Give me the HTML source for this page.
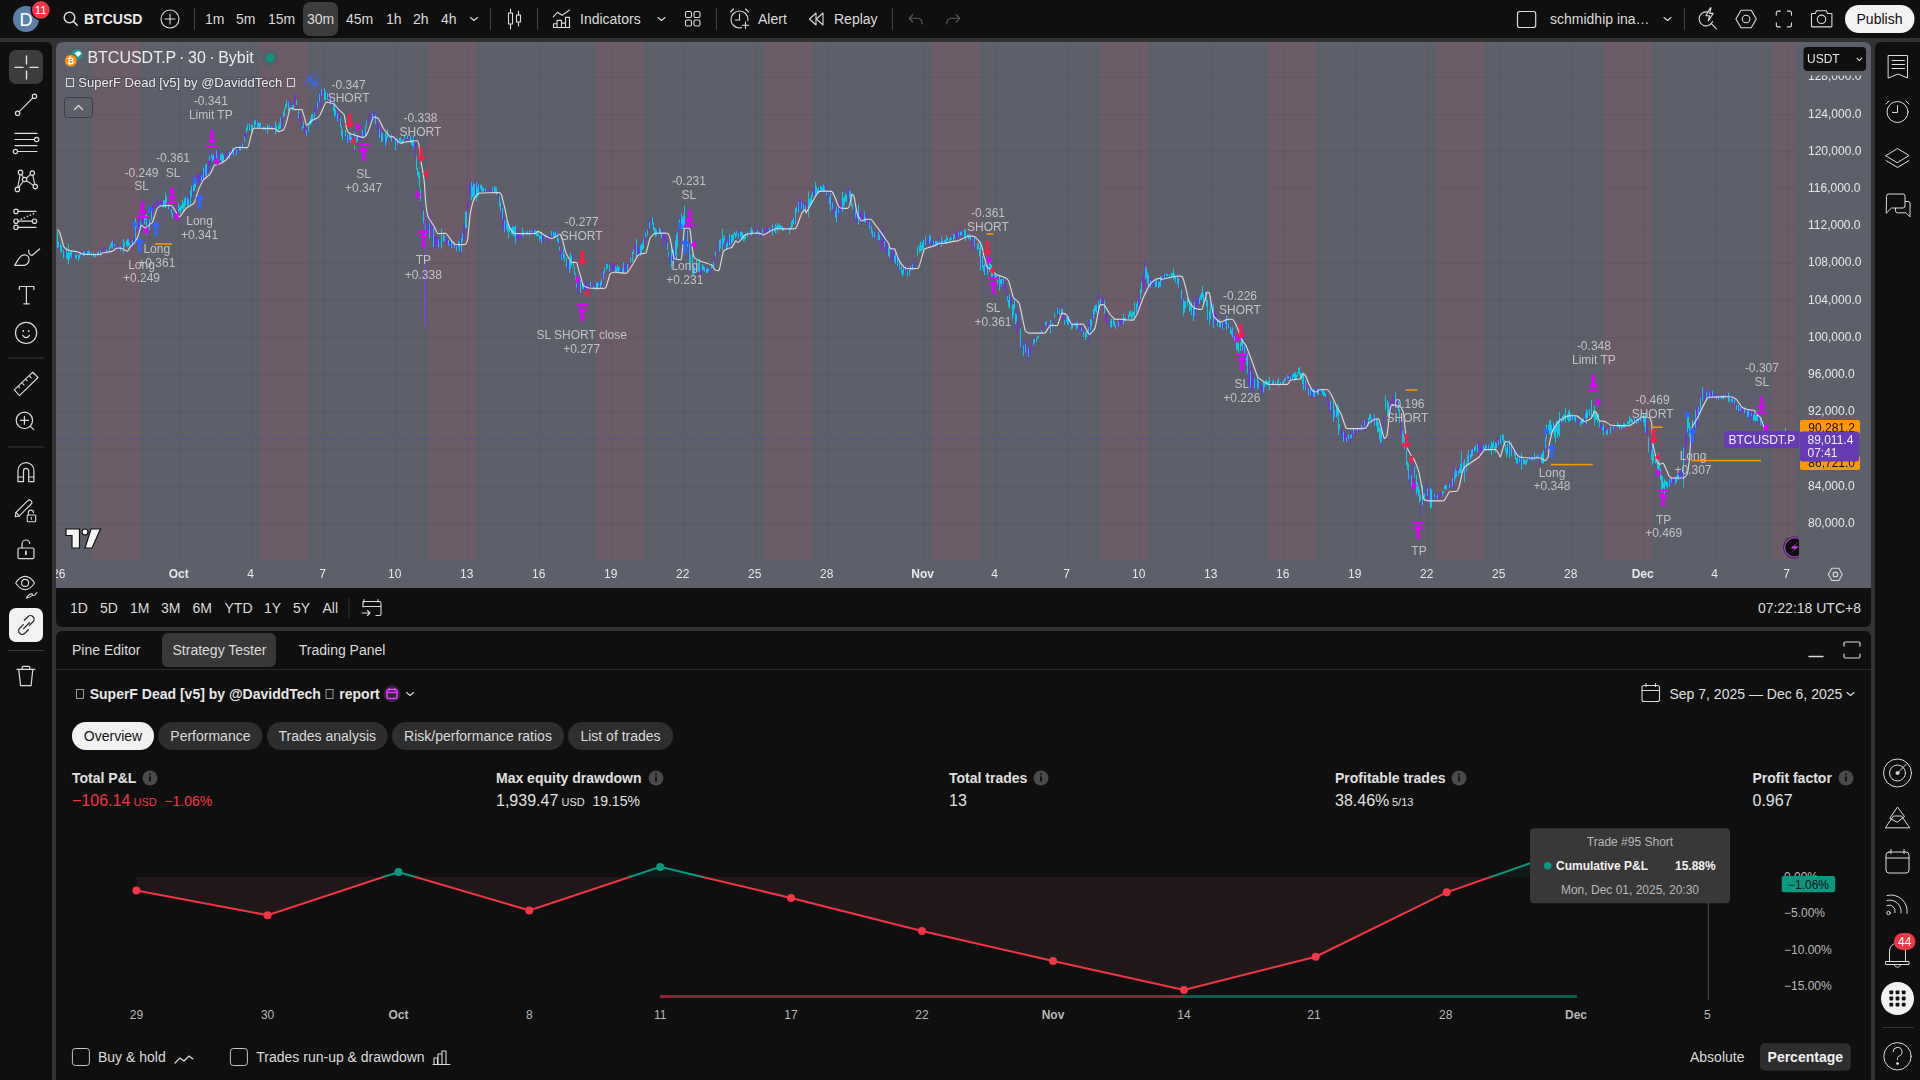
<!DOCTYPE html>
<html><head><meta charset="utf-8"><style>
html,body{margin:0;padding:0;}
body{width:1920px;height:1080px;overflow:hidden;background:#323232;position:relative;font-family:"Liberation Sans", sans-serif;}
.p{position:absolute;background:#0f0f0f;}
svg text{font-family:"Liberation Sans", sans-serif;}
</style></head><body>
<div class="p" style="left:0;top:0;width:1920px;height:38px"></div>
<div class="p" style="left:0;top:42px;width:52px;height:1038px;border-top-right-radius:6px"></div>
<div class="p" style="left:1875px;top:42px;width:45px;height:1038px;border-top-left-radius:6px"></div>
<div class="p" style="left:56px;top:42px;width:1815px;height:585px;border-radius:6px;overflow:hidden">
<svg width="1815" height="546" viewBox="56 42 1815 546" style="position:absolute;left:0;top:0;display:block">
<rect x="56" y="42" width="1815" height="546" fill="#5d606b"/>
<rect x="92" y="42" width="48" height="518" fill="#6b5c67"/>
<rect x="260" y="42" width="48" height="518" fill="#6b5c67"/>
<rect x="428" y="42" width="48" height="518" fill="#6b5c67"/>
<rect x="596" y="42" width="48" height="518" fill="#6b5c67"/>
<rect x="764" y="42" width="48" height="518" fill="#6b5c67"/>
<rect x="932" y="42" width="48" height="518" fill="#6b5c67"/>
<rect x="1100" y="42" width="48" height="518" fill="#6b5c67"/>
<rect x="1268" y="42" width="48" height="518" fill="#6b5c67"/>
<rect x="1436" y="42" width="48" height="518" fill="#6b5c67"/>
<rect x="1604" y="42" width="48" height="518" fill="#6b5c67"/>
<rect x="1772" y="42" width="23" height="518" fill="#6b5c67"/>
<rect x="178.5" y="42" width="1" height="518" fill="#000" fill-opacity="0.06"/>
<rect x="250.5" y="42" width="1" height="518" fill="#000" fill-opacity="0.06"/>
<rect x="322.5" y="42" width="1" height="518" fill="#000" fill-opacity="0.06"/>
<rect x="394.5" y="42" width="1" height="518" fill="#000" fill-opacity="0.06"/>
<rect x="466.5" y="42" width="1" height="518" fill="#000" fill-opacity="0.06"/>
<rect x="538.5" y="42" width="1" height="518" fill="#000" fill-opacity="0.06"/>
<rect x="610.5" y="42" width="1" height="518" fill="#000" fill-opacity="0.06"/>
<rect x="682.5" y="42" width="1" height="518" fill="#000" fill-opacity="0.06"/>
<rect x="754.5" y="42" width="1" height="518" fill="#000" fill-opacity="0.06"/>
<rect x="826.5" y="42" width="1" height="518" fill="#000" fill-opacity="0.06"/>
<rect x="922.5" y="42" width="1" height="518" fill="#000" fill-opacity="0.06"/>
<rect x="994.5" y="42" width="1" height="518" fill="#000" fill-opacity="0.06"/>
<rect x="1066.5" y="42" width="1" height="518" fill="#000" fill-opacity="0.06"/>
<rect x="1138.5" y="42" width="1" height="518" fill="#000" fill-opacity="0.06"/>
<rect x="1210.5" y="42" width="1" height="518" fill="#000" fill-opacity="0.06"/>
<rect x="1282.5" y="42" width="1" height="518" fill="#000" fill-opacity="0.06"/>
<rect x="1354.5" y="42" width="1" height="518" fill="#000" fill-opacity="0.06"/>
<rect x="1426.5" y="42" width="1" height="518" fill="#000" fill-opacity="0.06"/>
<rect x="1498.5" y="42" width="1" height="518" fill="#000" fill-opacity="0.06"/>
<rect x="1570.5" y="42" width="1" height="518" fill="#000" fill-opacity="0.06"/>
<rect x="1642.5" y="42" width="1" height="518" fill="#000" fill-opacity="0.06"/>
<rect x="1714.5" y="42" width="1" height="518" fill="#000" fill-opacity="0.06"/>
<rect x="1786.5" y="42" width="1" height="518" fill="#000" fill-opacity="0.06"/>
<rect x="56" y="76.7" width="1739" height="1" fill="#000" fill-opacity="0.06"/>
<rect x="56" y="113.9" width="1739" height="1" fill="#000" fill-opacity="0.06"/>
<rect x="56" y="151.1" width="1739" height="1" fill="#000" fill-opacity="0.06"/>
<rect x="56" y="188.3" width="1739" height="1" fill="#000" fill-opacity="0.06"/>
<rect x="56" y="225.5" width="1739" height="1" fill="#000" fill-opacity="0.06"/>
<rect x="56" y="262.7" width="1739" height="1" fill="#000" fill-opacity="0.06"/>
<rect x="56" y="299.9" width="1739" height="1" fill="#000" fill-opacity="0.06"/>
<rect x="56" y="337.1" width="1739" height="1" fill="#000" fill-opacity="0.06"/>
<rect x="56" y="374.3" width="1739" height="1" fill="#000" fill-opacity="0.06"/>
<rect x="56" y="411.5" width="1739" height="1" fill="#000" fill-opacity="0.06"/>
<rect x="56" y="448.7" width="1739" height="1" fill="#000" fill-opacity="0.06"/>
<rect x="56" y="485.9" width="1739" height="1" fill="#000" fill-opacity="0.06"/>
<rect x="56" y="523.1" width="1739" height="1" fill="#000" fill-opacity="0.06"/>
<line x1="56" y1="439.5" x2="1795" y2="439.5" stroke="#6535c8" stroke-width="1" stroke-dasharray="1,2"/>
<path d="M59.5 242.9V252.8M65.5 250.5V258.3M72.5 254.3V257.7M73.5 253.3V258.3M77.5 257.0V259.3M80.5 252.3V256.9M81.5 250.8V255.4M85.5 250.8V255.6M86.5 251.3V254.8M86.5 251.6V254.7M91.5 251.2V255.2M92.5 252.5V254.8M96.5 253.3V256.7M99.5 251.6V255.0M101.5 249.2V253.4M102.5 249.9V253.4M103.5 247.5V251.2M105.5 248.3V251.9M106.5 247.9V251.6M108.5 249.6V252.7M113.5 239.8V250.5M116.5 244.8V247.7M117.5 244.7V247.8M118.5 246.8V249.8M119.5 248.1V252.0M121.5 247.4V250.5M122.5 244.3V249.3M129.5 237.0V246.7M130.5 243.1V248.1M133.5 237.7V248.6M134.5 230.4V241.6M136.5 225.4V233.6M138.5 214.2V234.3M139.5 218.6V228.8M142.5 210.6V233.6M142.5 218.7V224.3M143.5 217.6V223.0M145.5 212.5V221.0M148.5 218.8V231.0M152.5 205.8V216.7M153.5 204.2V212.1M154.5 203.2V208.1M156.5 202.0V207.9M156.5 202.4V206.2M157.5 200.3V205.5M158.5 198.1V205.2M160.5 199.1V205.6M161.5 200.7V207.9M162.5 201.9V205.3M167.5 201.7V205.6M169.5 207.1V212.4M172.5 211.6V216.6M174.5 211.1V218.2M175.5 211.7V219.1M175.5 208.5V217.0M177.5 205.2V212.6M186.5 196.2V204.1M189.5 194.2V203.8M192.5 185.5V197.6M195.5 175.5V186.8M197.5 174.4V179.2M198.5 174.1V184.8M198.5 175.9V181.2M199.5 173.8V184.6M200.5 171.9V181.8M202.5 170.6V182.1M204.5 166.1V177.2M207.5 167.6V174.8M208.5 160.0V172.0M209.5 159.4V166.4M210.5 149.3V164.9M214.5 154.4V160.2M215.5 153.2V161.9M217.5 148.6V154.5M218.5 150.7V156.8M219.5 153.6V157.8M220.5 157.6V164.5M224.5 154.4V159.8M225.5 152.7V157.1M226.5 151.5V156.1M228.5 151.8V156.9M228.5 150.9V159.2M230.5 150.2V154.3M231.5 149.0V156.4M234.5 149.8V153.5M235.5 149.6V154.0M237.5 149.2V154.2M238.5 146.6V151.9M241.5 142.6V147.6M242.5 142.3V147.7M244.5 134.1V139.6M245.5 132.3V138.9M249.5 122.2V129.5M252.5 125.6V130.2M256.5 120.7V126.4M261.5 124.4V129.1M262.5 127.3V129.2M266.5 128.0V129.8M270.5 124.8V127.9M272.5 126.7V129.2M273.5 126.9V130.5M274.5 127.9V130.9M278.5 126.5V131.3M281.5 118.4V127.7M282.5 114.0V121.9M289.5 101.1V106.8M289.5 98.6V105.1M291.5 101.7V108.6M294.5 95.0V104.3M295.5 93.9V102.5M297.5 105.0V109.6M299.5 114.5V121.1M300.5 115.3V120.9M301.5 119.4V128.7M303.5 121.5V129.8M304.5 125.0V134.0M306.5 128.5V134.6M307.5 128.6V134.1M314.5 109.0V124.9M315.5 108.0V116.0M316.5 103.7V111.5M318.5 100.8V108.4M318.5 93.8V101.2M320.5 90.2V107.7M320.5 93.0V99.0M322.5 90.0V95.2M325.5 88.9V94.4M328.5 95.5V99.7M328.5 93.4V104.9M332.5 98.9V104.6M332.5 101.1V107.5M336.5 112.4V117.3M336.5 107.2V115.5M338.5 109.5V118.8M339.5 114.4V124.6M343.5 133.7V138.8M346.5 134.3V140.1M346.5 136.5V143.3M348.5 135.9V142.5M351.5 134.9V144.3M353.5 133.2V143.8M356.5 138.7V143.1M358.5 137.2V141.3M359.5 134.2V139.5M360.5 134.0V139.9M361.5 134.0V138.7M363.5 128.8V136.4M364.5 131.7V136.4M367.5 120.3V124.2M368.5 113.4V122.1M370.5 113.7V120.9M370.5 115.6V122.2M372.5 112.9V120.6M373.5 111.4V119.0M374.5 110.8V119.3M375.5 117.3V126.6M377.5 115.2V130.2M377.5 117.4V127.1M378.5 123.3V134.7M380.5 127.0V138.6M384.5 137.0V145.8M389.5 133.3V140.6M389.5 137.7V141.1M392.5 134.1V140.1M393.5 137.5V142.1M396.5 141.7V147.5M396.5 138.8V143.9M398.5 139.5V143.8M403.5 139.3V143.0M405.5 138.4V141.9M406.5 136.9V140.2M408.5 135.8V139.5M410.5 139.1V147.1M414.5 136.9V148.6M415.5 143.9V158.0M421.5 201.6V213.1M424.5 214.4V224.0M424.5 219.0V233.1M426.5 220.9V234.6M428.5 221.6V229.9M430.5 212.7V237.3M430.5 216.4V235.4M432.5 223.0V240.6M434.5 236.5V251.3M435.5 235.7V248.3M436.5 235.2V245.5M437.5 237.2V246.8M439.5 238.8V244.7M445.5 236.2V243.6M446.5 239.0V243.7M447.5 237.4V243.1M449.5 241.8V246.2M450.5 242.0V247.8M452.5 240.5V246.0M453.5 242.0V246.9M455.5 243.7V248.0M457.5 244.9V249.3M460.5 235.0V256.0M463.5 225.8V240.2M464.5 224.4V238.9M467.5 201.1V217.8M468.5 200.7V208.7M469.5 183.3V195.1M470.5 179.9V194.9M470.5 182.2V191.9M475.5 179.6V193.4M479.5 183.7V190.1M484.5 188.7V192.4M486.5 187.9V191.4M488.5 189.1V191.1M488.5 188.6V192.5M490.5 189.2V192.3M491.5 189.0V191.0M493.5 190.5V194.0M494.5 186.8V192.7M498.5 191.3V201.3M501.5 207.9V218.9M502.5 204.3V231.7M503.5 214.8V227.5M505.5 222.2V227.1M505.5 222.1V232.5M511.5 223.8V235.7M516.5 231.5V238.3M517.5 227.7V241.8M518.5 234.6V239.3M519.5 233.1V239.2M520.5 234.5V238.0M521.5 234.4V237.2M524.5 232.0V234.8M528.5 231.8V234.3M530.5 231.1V233.9M532.5 229.8V232.6M533.5 229.0V233.1M536.5 232.6V237.3M541.5 236.1V239.7M542.5 233.3V241.2M543.5 234.3V239.2M543.5 237.6V242.0M546.5 235.1V238.5M547.5 236.8V241.5M548.5 237.0V242.3M549.5 234.4V239.1M549.5 233.2V238.6M552.5 232.5V239.1M555.5 229.0V233.3M556.5 231.3V238.0M559.5 239.8V253.7M560.5 248.8V259.8M562.5 248.7V259.4M562.5 252.4V257.5M567.5 261.1V267.7M567.5 263.4V268.7M568.5 261.8V272.7M572.5 252.7V262.3M576.5 276.0V286.3M577.5 284.2V292.1M578.5 277.6V294.9M579.5 277.6V288.1M582.5 285.8V290.0M584.5 284.8V289.5M585.5 280.9V289.1M586.5 282.6V290.8M587.5 286.3V293.7M588.5 285.3V290.8M589.5 282.6V288.0M591.5 281.5V286.2M592.5 284.7V288.0M594.5 282.3V288.6M594.5 283.9V286.9M599.5 281.7V288.9M602.5 269.8V288.3M604.5 270.1V277.1M607.5 261.7V268.0M609.5 266.7V271.3M611.5 264.0V272.1M612.5 263.2V269.8M613.5 263.1V271.0M614.5 264.3V271.2M620.5 267.1V272.0M621.5 267.4V273.4M624.5 264.7V269.4M625.5 263.8V273.1M626.5 264.5V269.9M629.5 260.1V266.1M631.5 254.2V257.6M634.5 245.5V251.2M635.5 246.9V252.7M635.5 244.5V251.2M637.5 245.3V253.8M638.5 247.5V255.6M639.5 249.3V255.7M639.5 250.2V255.8M641.5 241.9V253.6M644.5 236.2V245.4M645.5 232.1V242.2M648.5 221.4V230.0M649.5 223.6V230.4M650.5 217.3V225.3M654.5 226.2V233.6M657.5 228.8V236.7M657.5 228.5V234.6M662.5 228.1V245.9M663.5 232.1V237.9M664.5 234.1V240.9M665.5 234.9V243.0M666.5 238.0V247.5M669.5 255.1V263.6M670.5 255.0V261.4M672.5 248.1V259.8M674.5 245.4V261.6M678.5 224.6V242.8M680.5 215.5V228.8M684.5 212.2V225.9M685.5 217.3V229.8M686.5 219.6V239.8M688.5 241.3V258.5M695.5 265.2V275.0M700.5 269.6V275.7M701.5 267.7V274.5M702.5 266.1V271.3M705.5 266.3V271.2M709.5 268.1V273.1M710.5 269.4V276.3M711.5 266.3V269.9M713.5 257.5V267.3M714.5 256.0V263.0M717.5 242.5V254.3M717.5 246.2V256.3M721.5 240.1V245.9M725.5 236.8V247.1M726.5 238.7V246.9M728.5 238.3V249.9M730.5 237.9V243.2M731.5 235.7V245.3M735.5 231.6V236.7M739.5 226.6V243.4M748.5 230.7V234.6M749.5 231.6V235.1M751.5 230.1V235.0M754.5 230.6V234.7M754.5 231.2V234.0M755.5 229.5V233.3M759.5 227.2V236.3M760.5 229.1V237.5M761.5 231.2V235.8M764.5 229.8V232.7M765.5 229.8V234.0M765.5 228.8V232.2M766.5 227.0V232.5M767.5 227.9V231.6M768.5 228.9V232.1M770.5 228.1V232.4M773.5 227.3V229.9M774.5 227.5V230.1M785.5 227.2V230.3M785.5 227.9V229.7M786.5 228.0V230.0M787.5 227.6V231.7M788.5 227.0V231.2M789.5 228.4V230.7M794.5 215.4V223.4M797.5 204.4V211.2M799.5 198.3V208.9M800.5 197.3V207.6M802.5 201.0V212.8M804.5 201.7V209.2M806.5 201.7V206.9M813.5 187.9V195.2M814.5 186.7V195.4M816.5 189.4V196.3M819.5 187.9V192.7M823.5 185.4V189.0M825.5 183.5V195.5M827.5 195.4V201.8M828.5 190.7V198.5M831.5 200.4V206.7M832.5 202.1V207.9M833.5 203.1V213.1M834.5 208.1V214.5M837.5 208.9V215.2M839.5 201.1V221.0M840.5 202.8V207.5M840.5 201.4V210.4M841.5 203.6V211.5M846.5 188.2V200.6M848.5 187.4V201.7M854.5 208.7V222.6M856.5 212.6V222.2M860.5 210.9V220.8M861.5 211.5V224.2M862.5 212.5V220.7M865.5 213.3V221.2M866.5 215.3V223.5M867.5 215.5V224.2M868.5 219.8V226.5M870.5 224.4V228.0M873.5 230.3V239.7M876.5 230.5V235.0M876.5 230.9V236.7M878.5 237.4V244.7M881.5 233.2V245.4M881.5 229.5V251.7M882.5 234.4V243.4M883.5 227.2V251.2M885.5 239.2V250.2M886.5 243.3V250.5M887.5 246.7V254.7M891.5 254.2V261.4M892.5 250.1V260.1M893.5 246.1V262.2M896.5 251.4V261.2M898.5 263.2V271.7M899.5 262.7V271.0M904.5 264.5V272.3M906.5 266.4V272.0M908.5 270.5V274.8M911.5 264.5V270.1M913.5 263.1V268.6M913.5 263.4V268.8M915.5 260.2V266.5M915.5 257.8V262.6M924.5 237.8V246.3M925.5 237.8V244.4M927.5 240.8V244.3M928.5 235.2V244.8M931.5 239.7V246.7M932.5 240.9V247.8M933.5 241.5V245.5M934.5 241.8V245.6M938.5 236.9V248.2M940.5 238.9V243.7M942.5 241.2V244.1M947.5 237.1V243.5M949.5 237.6V241.5M952.5 234.9V239.3M955.5 232.5V236.3M956.5 230.0V240.2M957.5 232.7V237.4M959.5 232.5V236.6M961.5 226.5V237.8M962.5 233.2V235.8M963.5 232.4V234.9M971.5 236.5V242.3M971.5 238.0V249.9M973.5 238.2V245.8M974.5 234.9V251.4M975.5 240.6V245.7M981.5 255.3V266.7M985.5 260.0V273.3M989.5 265.8V274.0M993.5 270.2V277.7M994.5 270.2V276.3M1002.5 283.5V288.7M1004.5 278.4V290.1M1005.5 284.0V291.9M1006.5 291.1V298.1M1010.5 295.1V303.8M1011.5 297.7V305.3M1015.5 311.0V330.0M1017.5 306.8V334.7M1018.5 322.0V330.0M1021.5 338.2V350.6M1023.5 345.7V351.0M1024.5 343.4V355.0M1027.5 344.6V356.1M1027.5 339.5V363.5M1029.5 347.1V355.9M1030.5 349.6V354.3M1030.5 347.5V356.2M1031.5 342.7V349.2M1032.5 338.8V344.5M1034.5 339.3V343.5M1035.5 337.8V339.5M1040.5 332.4V336.9M1040.5 332.2V336.3M1042.5 329.3V331.6M1043.5 325.6V329.4M1044.5 324.6V327.2M1047.5 323.0V326.6M1047.5 321.7V325.3M1049.5 321.8V326.6M1051.5 324.1V330.3M1053.5 317.7V327.3M1056.5 307.8V311.0M1058.5 309.3V316.3M1062.5 302.6V319.4M1063.5 311.9V319.2M1065.5 318.2V323.0M1069.5 316.3V323.0M1070.5 320.2V327.9M1071.5 323.3V327.0M1073.5 320.8V325.2M1078.5 321.9V329.4M1079.5 324.4V329.6M1080.5 326.2V332.1M1082.5 327.8V333.2M1083.5 330.5V334.0M1085.5 332.4V340.4M1088.5 319.8V342.8M1089.5 324.1V335.3M1092.5 314.3V319.9M1097.5 297.4V311.1M1098.5 291.7V319.3M1100.5 296.3V307.8M1102.5 298.0V304.7M1103.5 297.6V309.3M1105.5 313.5V321.2M1106.5 311.6V323.7M1107.5 316.6V322.5M1109.5 320.7V327.8M1113.5 321.0V326.2M1116.5 323.5V328.1M1116.5 321.6V328.5M1119.5 319.7V325.2M1120.5 320.6V324.5M1121.5 320.2V324.8M1122.5 318.4V322.3M1126.5 315.5V319.8M1134.5 307.1V316.7M1137.5 301.0V309.3M1138.5 298.7V307.7M1139.5 292.8V313.3M1142.5 277.7V286.4M1143.5 274.2V288.5M1144.5 259.9V292.4M1149.5 278.9V287.1M1150.5 279.4V288.1M1151.5 276.9V284.5M1151.5 279.6V289.8M1153.5 280.3V286.5M1154.5 279.9V284.9M1157.5 281.2V286.7M1162.5 274.0V284.8M1163.5 276.2V279.9M1165.5 273.4V276.6M1167.5 272.8V276.6M1176.5 275.4V282.1M1179.5 283.1V291.3M1181.5 294.0V300.5M1182.5 296.5V304.7M1189.5 303.2V311.4M1192.5 306.8V313.4M1195.5 295.6V319.3M1196.5 300.1V309.6M1197.5 298.5V309.4M1198.5 295.3V303.8M1204.5 291.5V296.6M1207.5 301.9V313.1M1208.5 314.9V322.4M1212.5 302.2V316.6M1213.5 308.1V322.3M1214.5 310.5V325.7M1215.5 310.4V324.9M1216.5 314.6V321.7M1221.5 320.6V330.3M1223.5 323.6V328.0M1224.5 320.0V325.3M1225.5 316.9V326.4M1227.5 320.6V324.4M1229.5 324.4V329.2M1233.5 328.8V337.8M1235.5 335.6V342.6M1243.5 327.9V363.2M1245.5 348.3V362.6M1248.5 361.0V389.3M1249.5 368.9V384.3M1251.5 363.8V393.4M1252.5 373.9V386.0M1253.5 377.1V391.2M1256.5 381.9V388.5M1259.5 380.3V387.6M1260.5 386.4V390.7M1261.5 385.5V393.2M1262.5 385.8V395.6M1271.5 381.7V386.2M1274.5 380.4V382.7M1278.5 381.7V383.9M1280.5 380.0V385.1M1286.5 376.1V381.0M1288.5 374.9V378.4M1289.5 374.6V378.8M1291.5 374.7V379.7M1295.5 374.7V379.5M1302.5 374.7V381.9M1304.5 381.2V386.8M1306.5 383.7V391.6M1309.5 387.0V394.3M1311.5 390.2V396.3M1311.5 392.5V398.3M1312.5 389.4V398.0M1315.5 386.7V394.5M1316.5 390.5V396.4M1316.5 389.1V398.6M1319.5 387.5V392.9M1320.5 389.0V392.9M1322.5 389.0V392.8M1325.5 390.3V396.1M1327.5 395.3V402.6M1328.5 399.9V406.3M1329.5 403.1V412.2M1331.5 402.5V411.6M1332.5 409.6V414.4M1335.5 411.4V420.8M1336.5 408.3V417.8M1341.5 426.6V436.0M1342.5 430.8V440.0M1344.5 431.0V441.4M1345.5 433.1V443.3M1346.5 435.4V440.0M1349.5 435.1V439.1M1350.5 430.4V443.2M1352.5 430.2V437.1M1354.5 430.9V434.4M1355.5 428.1V433.1M1356.5 429.1V431.9M1358.5 426.8V432.1M1360.5 426.5V430.8M1361.5 427.1V430.3M1362.5 423.7V427.0M1363.5 421.4V425.0M1365.5 420.0V431.7M1366.5 420.1V425.5M1372.5 418.7V424.5M1374.5 417.5V426.2M1375.5 414.0V423.6M1381.5 430.2V448.5M1382.5 424.7V440.5M1383.5 415.3V425.5M1385.5 397.2V411.7M1390.5 401.5V417.1M1390.5 400.9V408.4M1391.5 398.9V411.2M1392.5 394.5V403.9M1394.5 397.5V405.3M1397.5 400.5V408.5M1400.5 417.4V433.8M1401.5 429.0V435.8M1405.5 440.4V449.0M1409.5 470.5V483.0M1409.5 472.7V483.6M1411.5 471.2V486.7M1412.5 479.6V493.6M1413.5 470.8V485.7M1413.5 462.1V473.4M1417.5 480.6V494.3M1420.5 500.1V515.8M1423.5 491.1V502.3M1424.5 493.3V498.9M1426.5 483.3V504.5M1426.5 487.1V493.1M1428.5 486.7V497.7M1428.5 492.6V498.5M1431.5 497.0V502.3M1432.5 495.0V501.3M1433.5 495.6V498.8M1435.5 493.3V496.4M1436.5 494.0V496.6M1438.5 494.5V498.1M1438.5 492.6V496.4M1439.5 494.1V498.7M1440.5 492.9V496.7M1441.5 491.8V496.8M1445.5 483.8V490.0M1448.5 482.4V487.0M1450.5 480.9V486.8M1450.5 481.5V489.3M1453.5 462.7V489.2M1457.5 468.8V475.4M1458.5 465.3V474.1M1459.5 467.5V472.7M1462.5 458.4V464.4M1465.5 466.5V473.2M1467.5 456.4V461.0M1469.5 450.5V460.9M1473.5 447.7V453.8M1475.5 446.1V452.4M1478.5 441.8V457.4M1479.5 444.0V449.5M1480.5 445.5V452.9M1481.5 448.0V453.0M1482.5 444.8V450.8M1487.5 444.2V449.3M1489.5 445.2V449.3M1497.5 437.4V447.1M1499.5 437.2V445.2M1502.5 435.2V440.9M1508.5 444.6V454.5M1508.5 441.5V453.3M1513.5 449.0V453.4M1517.5 451.2V466.1M1518.5 458.0V465.2M1520.5 457.7V464.0M1521.5 458.7V462.4M1523.5 457.7V463.1M1528.5 458.4V460.6M1530.5 456.3V459.0M1531.5 456.1V458.8M1533.5 454.9V460.5M1537.5 454.6V457.9M1539.5 454.5V466.4M1541.5 453.0V459.8M1543.5 454.7V460.4M1544.5 442.4V454.4M1547.5 428.6V434.3M1550.5 422.7V432.6M1552.5 423.5V432.3M1559.5 426.2V433.2M1560.5 419.5V426.5M1570.5 415.2V418.4M1571.5 415.4V419.0M1573.5 415.8V421.0M1574.5 416.8V420.4M1576.5 421.8V424.2M1578.5 420.0V424.7M1579.5 420.7V423.9M1584.5 409.7V425.5M1589.5 407.4V414.3M1600.5 423.5V429.5M1601.5 423.3V430.7M1604.5 426.9V432.9M1605.5 427.6V432.2M1608.5 429.2V433.8M1612.5 427.6V431.6M1612.5 427.1V430.8M1614.5 425.7V430.4M1615.5 424.0V427.1M1616.5 422.2V426.3M1622.5 423.3V431.3M1626.5 423.2V425.3M1631.5 418.8V421.9M1635.5 418.6V423.8M1639.5 419.2V422.8M1640.5 417.2V423.3M1641.5 413.4V418.8M1642.5 416.5V420.7M1645.5 417.3V428.7M1646.5 412.9V434.9M1647.5 426.6V433.9M1650.5 440.4V455.1M1655.5 456.3V465.0M1658.5 451.4V462.5M1668.5 481.5V486.1M1670.5 478.4V484.6M1672.5 476.3V483.6M1673.5 476.7V483.1M1674.5 476.8V482.6M1678.5 472.8V478.3M1679.5 471.9V478.1M1680.5 470.3V479.2M1681.5 468.7V478.4M1682.5 467.2V480.7M1684.5 455.5V462.9M1685.5 433.6V456.9M1686.5 427.6V446.4M1687.5 409.6V427.9M1691.5 430.4V448.3M1692.5 426.6V443.2M1694.5 416.7V432.0M1696.5 405.5V426.7M1697.5 408.9V426.3M1699.5 405.2V415.9M1701.5 390.8V401.9M1704.5 388.3V397.8M1704.5 393.2V400.3M1705.5 392.1V398.5M1706.5 387.9V396.5M1708.5 391.7V399.1M1710.5 391.3V399.6M1711.5 391.1V396.3M1713.5 392.9V397.7M1714.5 393.0V398.3M1715.5 395.6V399.8M1717.5 396.1V399.9M1719.5 394.8V400.5M1720.5 396.7V398.5M1723.5 395.0V398.7M1726.5 393.3V395.6M1727.5 393.4V395.9M1730.5 396.9V401.0M1733.5 394.9V407.8M1735.5 401.3V406.2M1737.5 407.5V411.2M1739.5 406.0V412.3M1740.5 409.6V413.0M1741.5 407.4V412.8M1742.5 406.4V410.9M1743.5 405.8V412.5M1746.5 408.4V413.0M1746.5 409.1V415.9M1749.5 409.5V419.6M1750.5 412.0V416.8M1751.5 408.3V423.2M1752.5 412.2V418.2M1754.5 412.9V420.6M1758.5 417.2V422.9M1759.5 421.3V424.8M1761.5 420.2V425.3M1762.5 422.6V427.4M1764.5 424.4V433.7M1765.5 426.7V438.7M1765.5 428.9V434.9M1767.5 424.5V433.7" stroke="#6f35d2" stroke-width="1" fill="none"/>
<path d="M57.5 232.2V247.9M58.5 241.8V247.2M60.5 243.7V249.3M60.5 243.3V251.5M61.5 245.6V252.5M63.5 251.6V256.7M63.5 249.9V258.2M66.5 249.9V258.5M66.5 249.1V253.8M67.5 253.1V259.5M67.5 253.0V258.6M68.5 244.5V264.4M69.5 252.8V259.4M70.5 251.8V255.7M71.5 250.3V257.6M75.5 254.9V258.2M76.5 254.3V259.2M78.5 254.2V260.9M79.5 255.3V258.5M79.5 254.6V258.6M80.5 252.1V255.5M83.5 251.5V256.1M84.5 251.6V255.2M87.5 251.0V255.1M88.5 250.8V255.1M89.5 250.9V254.3M91.5 252.5V255.6M93.5 252.3V256.4M94.5 253.9V257.5M95.5 254.6V256.8M97.5 252.0V256.5M98.5 251.8V255.4M100.5 251.1V255.6M106.5 249.3V253.5M109.5 246.9V251.3M110.5 243.7V248.4M111.5 242.1V247.3M112.5 240.7V248.6M114.5 243.9V246.7M120.5 247.0V251.4M123.5 239.0V253.2M124.5 242.5V247.5M126.5 240.5V245.4M127.5 239.1V247.2M128.5 239.1V245.6M128.5 238.9V245.5M129.5 242.5V249.3M132.5 240.5V246.4M135.5 218.1V243.5M136.5 222.5V227.4M140.5 221.8V228.9M140.5 222.7V227.8M144.5 216.5V224.1M145.5 215.1V219.8M146.5 214.2V235.2M149.5 221.9V230.2M149.5 219.1V224.9M151.5 211.2V220.3M163.5 200.9V207.4M163.5 200.1V207.2M164.5 200.2V206.0M165.5 192.5V208.6M166.5 196.1V203.5M168.5 203.5V209.5M171.5 209.1V213.8M172.5 213.0V218.1M178.5 203.7V211.0M178.5 203.3V211.9M179.5 207.3V211.2M180.5 205.4V214.5M181.5 205.6V210.7M182.5 199.7V208.4M183.5 202.7V211.9M184.5 198.4V207.9M185.5 196.6V205.7M185.5 196.8V205.0M187.5 197.7V205.7M188.5 199.2V207.7M190.5 190.4V205.8M191.5 188.8V196.8M191.5 186.0V195.4M193.5 182.8V191.4M194.5 182.2V191.0M195.5 178.0V187.6M201.5 175.4V181.1M203.5 167.3V180.8M205.5 164.6V176.0M206.5 163.6V175.3M209.5 155.7V160.7M211.5 153.8V157.8M212.5 155.9V161.1M213.5 154.5V160.4M216.5 150.7V158.6M220.5 154.3V159.8M221.5 153.6V161.8M222.5 153.1V163.0M223.5 155.3V161.8M229.5 151.6V158.4M232.5 147.7V153.3M233.5 150.2V155.9M236.5 149.4V155.4M239.5 146.2V150.7M240.5 146.1V150.7M242.5 143.4V148.5M244.5 136.8V141.7M246.5 127.4V132.9M247.5 124.2V130.3M249.5 123.3V130.7M251.5 124.5V130.5M252.5 124.9V133.0M254.5 120.6V128.2M255.5 120.3V124.9M257.5 122.7V127.8M258.5 122.3V126.8M259.5 123.5V128.1M260.5 122.5V127.1M263.5 127.1V130.0M264.5 127.4V129.4M265.5 128.1V130.7M267.5 124.5V133.8M268.5 126.5V129.3M269.5 125.1V127.3M271.5 126.2V129.2M272.5 127.3V129.5M275.5 121.5V134.1M276.5 125.2V131.8M278.5 125.6V132.0M279.5 122.3V129.6M280.5 117.7V128.6M283.5 111.2V116.8M283.5 113.3V117.5M284.5 108.3V116.5M285.5 103.9V109.1M286.5 100.2V107.4M288.5 102.2V110.9M292.5 105.1V110.9M293.5 104.9V109.3M296.5 99.7V104.9M298.5 109.7V115.3M298.5 111.5V118.6M302.5 125.9V129.9M303.5 121.4V127.7M306.5 130.0V135.6M308.5 123.8V131.7M309.5 121.0V125.3M310.5 118.0V125.0M311.5 114.5V123.6M312.5 113.8V121.3M314.5 112.5V120.4M317.5 101.6V108.8M319.5 94.1V102.1M321.5 89.0V95.5M324.5 88.0V100.4M324.5 88.7V97.3M325.5 91.4V99.7M327.5 93.0V99.8M330.5 98.3V103.7M330.5 98.0V104.2M333.5 105.2V111.2M334.5 101.5V116.8M335.5 109.2V115.4M337.5 113.2V121.3M340.5 117.7V127.0M341.5 125.8V135.7M342.5 130.1V140.5M345.5 130.0V136.2M347.5 134.7V143.0M349.5 132.3V140.6M350.5 133.7V143.1M351.5 137.1V142.1M354.5 131.9V149.7M354.5 135.3V141.8M356.5 136.7V142.7M357.5 135.3V141.1M362.5 129.9V137.7M365.5 126.0V136.3M366.5 120.4V126.9M372.5 113.5V119.8M375.5 114.8V124.5M379.5 128.7V137.9M381.5 132.3V142.1M382.5 133.5V139.5M382.5 136.1V141.3M385.5 137.3V146.2M385.5 132.7V145.9M386.5 135.5V141.7M387.5 129.3V138.1M391.5 137.0V141.6M391.5 134.0V139.9M395.5 139.3V150.1M397.5 138.4V144.6M399.5 137.6V141.3M400.5 137.5V141.6M401.5 140.2V143.0M402.5 139.9V144.1M403.5 139.6V142.7M404.5 134.7V139.4M407.5 135.4V138.9M410.5 135.7V142.7M411.5 139.2V145.3M412.5 140.3V146.0M413.5 135.1V147.7M416.5 155.3V169.7M417.5 167.8V175.5M418.5 171.3V178.1M419.5 172.5V179.1M419.5 174.6V187.1M420.5 187.9V200.9M423.5 210.8V223.2M425.5 224.4V237.1M429.5 223.3V238.3M433.5 228.0V247.1M438.5 239.1V247.2M441.5 238.4V243.9M441.5 228.8V248.7M443.5 233.7V242.0M443.5 233.2V240.3M444.5 235.4V240.9M448.5 239.9V246.0M451.5 241.1V247.9M451.5 242.5V247.6M453.5 241.4V244.1M454.5 242.5V248.0M456.5 246.0V251.3M458.5 240.8V247.0M459.5 242.5V251.4M461.5 237.6V252.0M462.5 233.3V241.4M465.5 211.7V228.4M466.5 211.0V228.2M471.5 182.0V200.3M472.5 186.9V197.1M473.5 183.2V200.5M474.5 184.1V195.4M476.5 182.3V194.0M476.5 186.3V201.1M477.5 187.8V197.4M478.5 184.3V195.9M480.5 184.9V188.6M481.5 185.1V190.8M482.5 187.2V191.7M483.5 187.6V192.0M485.5 188.0V191.6M492.5 187.3V191.4M494.5 185.9V193.0M495.5 187.3V191.9M496.5 187.3V194.9M499.5 196.5V206.5M500.5 202.3V211.2M502.5 208.2V219.2M504.5 220.4V232.4M506.5 221.3V229.5M507.5 224.0V231.1M508.5 225.3V238.4M509.5 227.0V232.3M511.5 228.1V234.9M512.5 226.6V235.3M513.5 226.2V234.6M514.5 227.1V236.7M515.5 225.4V243.2M522.5 227.8V236.4M523.5 231.1V234.3M523.5 231.2V235.5M526.5 231.6V234.0M527.5 231.1V235.0M529.5 230.6V235.7M531.5 230.1V232.1M534.5 230.2V234.4M535.5 230.4V234.7M536.5 230.9V236.5M537.5 231.8V236.4M538.5 233.6V236.4M539.5 236.0V240.9M540.5 235.4V239.0M541.5 232.0V243.4M545.5 234.1V237.9M551.5 231.0V235.8M553.5 231.8V236.8M554.5 233.5V237.6M555.5 231.3V236.4M557.5 233.1V241.9M558.5 238.9V243.3M559.5 246.4V250.7M561.5 253.7V260.2M563.5 248.8V258.9M564.5 254.1V261.6M566.5 257.4V267.1M569.5 261.2V273.0M570.5 252.4V269.0M571.5 255.2V265.3M573.5 261.7V267.4M574.5 267.2V274.5M575.5 273.2V279.9M576.5 279.5V287.6M580.5 285.1V290.7M580.5 278.4V292.5M582.5 282.6V288.6M583.5 283.7V289.0M590.5 281.2V286.8M593.5 286.0V289.4M596.5 282.4V290.2M597.5 282.5V288.6M598.5 283.2V285.8M600.5 281.6V287.7M601.5 279.0V285.1M603.5 271.3V278.9M604.5 267.3V273.2M606.5 263.6V269.9M607.5 264.2V268.3M609.5 265.2V272.0M615.5 266.4V273.1M616.5 267.7V272.4M617.5 265.3V270.7M618.5 266.9V272.3M619.5 267.5V270.7M622.5 268.3V273.2M623.5 262.3V273.6M627.5 264.5V272.4M627.5 264.0V268.7M630.5 257.5V262.9M632.5 251.8V261.4M633.5 249.4V254.0M636.5 238.5V257.4M640.5 245.4V256.2M641.5 244.3V253.0M642.5 242.6V250.1M643.5 239.0V248.7M645.5 232.6V237.8M647.5 230.0V235.8M649.5 222.1V228.4M652.5 217.0V224.6M652.5 221.1V224.8M653.5 222.7V230.3M654.5 226.8V234.7M655.5 228.7V236.8M656.5 230.0V235.9M659.5 227.6V234.0M660.5 229.1V233.4M661.5 232.8V238.0M667.5 242.9V250.2M668.5 251.9V257.0M671.5 246.4V268.5M673.5 250.0V264.9M675.5 240.7V255.3M676.5 234.5V259.8M677.5 231.7V247.1M679.5 219.5V228.3M681.5 213.1V228.8M682.5 217.4V228.5M683.5 215.1V230.3M684.5 205.8V225.6M687.5 230.5V242.2M687.5 238.4V246.7M689.5 243.8V267.7M689.5 252.8V270.9M690.5 254.6V263.8M692.5 253.3V274.7M693.5 265.9V274.3M694.5 266.6V273.7M696.5 259.9V272.2M698.5 263.1V271.5M699.5 258.8V272.5M702.5 264.0V270.6M703.5 266.0V270.2M704.5 267.2V271.6M706.5 268.6V273.0M707.5 268.1V273.0M708.5 268.9V271.8M711.5 263.9V268.9M713.5 261.7V267.3M715.5 251.5V256.7M719.5 244.3V251.5M719.5 240.1V246.2M720.5 239.0V248.5M722.5 229.0V250.8M723.5 237.5V244.1M724.5 235.0V240.9M726.5 243.4V249.9M727.5 241.5V247.2M729.5 233.6V246.1M731.5 234.6V244.2M732.5 234.9V242.2M733.5 233.9V240.7M734.5 231.8V235.1M735.5 233.0V237.9M736.5 231.1V236.7M738.5 233.2V238.4M740.5 231.6V237.0M741.5 231.8V238.2M742.5 232.4V237.2M743.5 234.7V241.7M744.5 235.3V240.7M745.5 233.5V238.2M745.5 234.5V239.1M747.5 231.7V237.2M750.5 230.2V234.2M751.5 226.9V235.7M752.5 229.8V234.2M757.5 230.0V233.8M757.5 230.3V234.1M759.5 231.5V235.3M762.5 229.0V233.8M769.5 227.7V232.1M769.5 227.6V232.4M772.5 224.8V235.5M774.5 228.4V231.6M775.5 224.3V233.3M776.5 225.9V229.5M777.5 223.2V233.1M778.5 224.9V228.2M779.5 223.2V229.1M780.5 225.0V228.5M781.5 225.9V229.4M782.5 226.5V230.7M783.5 228.3V230.4M783.5 228.0V230.5M789.5 228.2V234.0M790.5 226.3V229.6M791.5 221.6V228.8M792.5 219.9V227.2M793.5 217.8V223.6M795.5 208.0V224.3M796.5 206.5V212.4M798.5 201.7V212.2M801.5 201.8V209.4M803.5 204.4V212.3M805.5 205.0V210.9M808.5 191.3V217.1M809.5 199.4V207.9M810.5 198.0V205.3M811.5 195.0V204.6M812.5 192.0V197.6M815.5 182.2V196.7M816.5 186.3V193.6M817.5 189.4V193.8M818.5 187.4V193.9M820.5 185.8V191.6M820.5 186.6V190.7M821.5 186.6V189.8M822.5 187.8V191.1M823.5 184.3V191.0M824.5 186.7V191.8M826.5 192.6V195.8M829.5 197.1V203.7M830.5 193.7V210.8M832.5 202.8V209.1M835.5 210.7V217.4M836.5 207.4V222.4M836.5 208.0V215.4M838.5 208.6V213.5M842.5 191.9V211.9M843.5 197.6V206.9M844.5 196.3V204.8M845.5 193.2V201.7M846.5 194.8V202.2M849.5 190.6V197.7M850.5 191.5V202.4M851.5 197.2V205.4M852.5 203.5V209.9M855.5 209.8V217.7M857.5 212.4V218.4M858.5 207.8V215.7M858.5 204.2V224.8M864.5 211.5V222.0M865.5 217.5V222.5M869.5 221.7V229.0M871.5 225.6V233.5M872.5 230.6V237.2M874.5 231.8V237.9M878.5 231.8V240.2M879.5 235.1V240.0M884.5 241.4V247.3M888.5 247.3V255.9M889.5 247.2V257.5M894.5 255.9V261.5M895.5 252.6V263.9M897.5 257.1V265.9M899.5 262.0V269.6M901.5 266.3V273.3M902.5 270.3V276.5M903.5 268.1V274.1M905.5 266.7V270.3M907.5 270.5V275.8M907.5 271.2V276.9M909.5 269.7V275.4M910.5 266.1V270.9M912.5 264.3V269.6M917.5 248.9V256.1M917.5 246.5V255.7M919.5 246.6V252.7M919.5 244.8V250.8M920.5 241.7V251.4M921.5 245.1V251.2M922.5 241.7V250.0M923.5 240.2V248.6M925.5 236.4V244.9M929.5 234.9V244.1M930.5 235.5V241.0M933.5 240.5V244.7M935.5 240.9V246.0M936.5 241.3V244.8M937.5 241.1V245.5M939.5 240.8V244.6M941.5 236.7V246.8M942.5 240.4V243.9M944.5 239.9V242.7M945.5 239.6V242.7M946.5 235.3V244.3M947.5 237.6V240.3M949.5 238.3V241.6M950.5 237.1V240.6M951.5 237.7V239.7M953.5 236.8V240.5M953.5 233.9V242.0M954.5 234.2V238.7M958.5 232.3V236.9M960.5 231.7V236.1M961.5 231.4V235.4M964.5 229.5V238.7M965.5 228.9V241.1M967.5 234.3V237.4M968.5 234.9V239.5M969.5 233.7V238.5M970.5 236.2V240.6M974.5 236.7V246.3M977.5 243.4V250.2M978.5 243.5V248.8M979.5 247.7V256.1M980.5 241.4V270.6M982.5 256.1V264.3M982.5 257.6V267.9M983.5 265.4V271.3M984.5 267.1V274.8M984.5 263.5V274.7M987.5 262.1V274.5M987.5 267.6V274.8M989.5 262.5V272.2M990.5 263.8V271.2M991.5 264.7V276.6M992.5 271.5V276.7M994.5 272.5V276.9M995.5 273.4V278.3M996.5 275.6V280.5M997.5 280.2V284.4M999.5 275.2V290.4M1000.5 279.3V284.0M1001.5 278.9V286.5M1003.5 277.5V283.7M1007.5 295.9V301.3M1008.5 299.9V306.7M1009.5 294.7V308.8M1012.5 308.1V316.5M1012.5 304.6V319.1M1013.5 304.4V315.2M1014.5 299.4V308.9M1015.5 313.4V324.5M1016.5 314.5V322.1M1020.5 328.6V343.8M1020.5 334.7V347.5M1023.5 345.4V355.7M1025.5 344.0V352.9M1028.5 347.9V356.7M1033.5 339.0V345.2M1034.5 339.1V343.5M1036.5 337.6V342.1M1037.5 336.3V338.9M1038.5 335.3V338.0M1041.5 330.3V333.9M1045.5 322.4V326.2M1046.5 321.1V324.4M1050.5 319.8V333.4M1052.5 322.8V327.4M1054.5 313.1V317.6M1057.5 307.6V313.9M1059.5 310.0V314.6M1061.5 308.7V313.2M1062.5 308.6V314.9M1064.5 320.0V325.1M1066.5 317.4V322.5M1067.5 318.0V324.7M1068.5 316.1V325.2M1071.5 323.4V329.6M1072.5 323.2V328.4M1075.5 322.8V326.2M1076.5 323.4V329.6M1077.5 321.9V327.9M1081.5 328.2V331.2M1083.5 331.6V337.2M1085.5 332.4V340.0M1086.5 330.6V337.6M1088.5 327.0V334.8M1090.5 319.0V330.3M1091.5 319.0V325.8M1093.5 308.7V318.5M1094.5 306.1V314.4M1095.5 304.9V311.4M1096.5 304.6V312.7M1098.5 300.5V311.8M1100.5 298.9V306.2M1104.5 300.4V314.1M1110.5 320.6V327.3M1111.5 321.9V327.6M1111.5 318.5V325.6M1113.5 317.4V325.4M1114.5 321.3V326.5M1115.5 324.8V329.1M1118.5 321.4V326.4M1123.5 314.0V324.7M1124.5 317.7V321.0M1125.5 317.6V320.4M1128.5 314.6V318.4M1128.5 314.7V319.8M1129.5 310.9V317.7M1130.5 310.7V315.7M1131.5 312.8V321.0M1132.5 311.0V318.0M1133.5 312.0V316.0M1134.5 302.0V320.8M1136.5 303.5V312.8M1137.5 300.8V307.4M1140.5 290.5V299.1M1140.5 288.9V295.6M1141.5 282.1V293.2M1145.5 266.4V279.4M1146.5 268.0V278.0M1147.5 271.8V283.8M1148.5 274.9V286.5M1150.5 280.2V287.8M1155.5 280.6V287.1M1156.5 280.0V286.9M1158.5 282.0V288.0M1159.5 281.8V286.9M1160.5 276.2V286.8M1161.5 276.5V281.2M1164.5 273.9V277.9M1166.5 273.1V275.8M1167.5 273.8V276.5M1169.5 274.7V278.2M1169.5 274.9V279.2M1171.5 273.9V277.3M1171.5 272.8V276.3M1172.5 272.6V276.8M1173.5 268.8V280.4M1174.5 273.4V278.6M1175.5 276.7V282.2M1177.5 275.8V284.0M1178.5 278.5V284.3M1178.5 279.1V287.9M1181.5 289.5V299.5M1183.5 299.4V315.6M1184.5 301.2V312.7M1185.5 302.0V308.3M1185.5 300.9V307.7M1187.5 298.2V306.0M1187.5 297.7V303.4M1189.5 299.6V312.0M1190.5 303.9V310.2M1191.5 301.4V315.0M1193.5 309.1V314.0M1193.5 307.1V321.0M1194.5 301.9V315.5M1199.5 297.2V304.1M1200.5 294.8V299.4M1201.5 292.9V300.2M1202.5 286.2V297.6M1203.5 293.8V302.7M1205.5 291.7V301.2M1206.5 296.7V307.2M1207.5 300.1V319.6M1209.5 310.3V325.1M1210.5 302.9V319.3M1213.5 304.5V328.1M1217.5 319.7V326.4M1219.5 319.2V326.8M1219.5 320.1V327.3M1220.5 321.8V327.5M1222.5 322.7V329.7M1225.5 320.5V323.9M1226.5 315.5V329.7M1228.5 323.2V328.1M1230.5 327.2V333.8M1231.5 329.9V334.9M1232.5 327.3V337.5M1234.5 335.7V341.4M1236.5 339.0V349.8M1237.5 342.1V350.6M1238.5 342.9V353.4M1238.5 343.2V354.3M1240.5 342.6V351.0M1241.5 337.2V346.0M1242.5 338.7V350.6M1244.5 345.9V354.2M1246.5 356.6V364.8M1247.5 352.8V369.5M1247.5 363.2V373.5M1250.5 371.1V387.1M1254.5 378.5V388.5M1257.5 374.7V386.1M1257.5 382.3V389.3M1258.5 380.4V388.4M1263.5 381.3V392.5M1264.5 382.3V387.3M1265.5 380.8V384.8M1266.5 379.8V384.8M1267.5 381.3V385.1M1268.5 380.7V385.4M1269.5 376.5V390.1M1269.5 380.7V385.9M1272.5 381.2V385.3M1273.5 379.2V382.9M1273.5 380.4V383.6M1275.5 381.6V383.8M1277.5 380.1V384.1M1278.5 378.3V386.8M1280.5 381.9V385.2M1282.5 382.1V384.9M1283.5 380.4V384.6M1284.5 378.8V382.2M1285.5 377.4V380.2M1287.5 375.2V378.6M1288.5 375.9V378.8M1290.5 376.5V379.8M1292.5 373.9V378.9M1293.5 373.7V377.0M1294.5 371.5V381.4M1295.5 373.0V380.1M1296.5 374.8V379.2M1297.5 372.3V376.5M1298.5 367.5V373.5M1299.5 367.4V375.8M1300.5 372.4V379.2M1301.5 372.9V379.5M1302.5 372.6V384.0M1303.5 372.7V389.8M1305.5 379.9V390.0M1305.5 380.9V390.5M1308.5 388.5V395.6M1310.5 387.1V395.3M1313.5 388.8V396.7M1314.5 389.8V396.8M1317.5 389.1V395.3M1318.5 389.1V394.7M1321.5 388.9V392.0M1322.5 389.7V394.5M1323.5 390.1V395.7M1324.5 391.5V396.2M1325.5 393.3V397.3M1330.5 400.9V410.1M1333.5 401.8V421.6M1334.5 409.6V417.8M1336.5 407.6V417.8M1337.5 403.9V415.9M1338.5 406.6V435.0M1339.5 424.0V429.4M1343.5 431.6V441.7M1346.5 437.4V442.3M1348.5 433.8V439.2M1350.5 435.3V438.8M1351.5 434.3V437.6M1353.5 428.9V433.9M1353.5 429.1V433.8M1357.5 428.7V430.8M1361.5 424.8V430.3M1364.5 420.2V426.1M1368.5 421.5V425.5M1368.5 418.1V423.8M1369.5 414.2V420.1M1370.5 414.2V418.1M1370.5 414.9V418.9M1371.5 417.0V423.4M1374.5 414.1V425.7M1376.5 418.5V426.5M1377.5 419.8V429.9M1377.5 425.8V432.2M1378.5 422.8V431.9M1379.5 427.4V439.3M1380.5 427.8V443.5M1381.5 430.8V442.1M1385.5 395.2V409.9M1387.5 400.4V414.2M1388.5 402.5V416.9M1389.5 410.7V417.9M1395.5 394.9V407.9M1395.5 392.2V402.3M1398.5 401.0V411.2M1399.5 408.9V423.0M1402.5 430.5V444.4M1403.5 433.4V442.0M1404.5 437.7V449.2M1406.5 449.4V465.0M1407.5 461.2V469.8M1408.5 463.3V479.4M1411.5 474.9V486.0M1414.5 466.5V477.5M1416.5 474.6V494.5M1417.5 482.0V492.3M1418.5 485.8V496.2M1419.5 489.8V502.8M1420.5 495.0V500.7M1422.5 485.4V505.1M1424.5 493.3V500.3M1427.5 488.5V495.9M1430.5 487.8V508.9M1431.5 489.7V507.5M1434.5 493.9V497.2M1437.5 495.0V498.5M1442.5 491.1V495.5M1443.5 490.5V493.2M1444.5 485.8V489.6M1445.5 484.7V489.3M1446.5 485.2V489.8M1449.5 483.8V488.4M1452.5 478.3V486.3M1452.5 478.2V483.9M1454.5 473.2V481.5M1455.5 468.7V478.6M1456.5 470.9V476.9M1458.5 470.9V475.9M1459.5 468.4V473.1M1460.5 464.1V473.2M1461.5 451.1V473.5M1463.5 462.8V470.5M1464.5 459.5V481.9M1466.5 462.9V471.5M1467.5 454.8V466.1M1468.5 450.1V464.5M1470.5 454.2V459.6M1471.5 449.8V457.5M1472.5 449.0V456.2M1474.5 446.7V451.7M1475.5 445.3V450.7M1477.5 444.1V452.3M1483.5 445.5V451.8M1483.5 447.2V450.0M1484.5 447.2V450.5M1485.5 445.4V449.9M1485.5 444.8V449.5M1486.5 445.3V448.6M1488.5 444.7V451.0M1490.5 446.5V451.1M1491.5 441.3V455.5M1492.5 443.4V448.5M1493.5 441.3V447.2M1494.5 446.0V449.4M1495.5 442.3V452.6M1496.5 443.2V448.2M1498.5 440.6V445.4M1500.5 434.9V443.6M1502.5 434.4V440.4M1503.5 434.5V443.4M1504.5 439.5V446.1M1505.5 444.8V451.5M1506.5 448.6V457.2M1507.5 444.0V454.3M1509.5 439.8V458.0M1511.5 451.1V456.2M1511.5 442.4V454.0M1514.5 449.2V455.5M1515.5 453.5V459.8M1516.5 458.1V463.4M1517.5 456.7V464.0M1519.5 458.1V462.3M1521.5 453.2V469.6M1523.5 458.8V464.3M1524.5 459.5V464.2M1525.5 460.2V465.0M1526.5 459.8V464.6M1527.5 458.5V461.5M1529.5 457.0V459.8M1531.5 456.9V459.9M1532.5 456.9V460.6M1534.5 456.8V459.7M1534.5 453.0V460.3M1536.5 455.3V458.1M1538.5 454.1V457.5M1541.5 454.2V462.7M1542.5 452.1V463.2M1543.5 450.2V463.5M1545.5 437.2V448.6M1546.5 425.8V439.2M1546.5 424.6V437.6M1548.5 425.0V430.7M1549.5 420.3V434.3M1550.5 419.7V434.6M1551.5 425.6V434.5M1551.5 424.8V434.0M1553.5 422.3V432.3M1554.5 426.6V437.2M1555.5 426.2V442.9M1556.5 420.6V431.4M1557.5 424.4V437.8M1558.5 420.7V434.6M1559.5 411.9V436.9M1561.5 419.7V422.8M1562.5 416.1V420.8M1563.5 414.9V421.2M1564.5 414.2V419.9M1565.5 407.7V422.4M1565.5 412.6V418.2M1567.5 414.2V419.5M1568.5 410.9V421.9M1569.5 409.4V421.3M1570.5 413.7V421.2M1572.5 414.8V419.1M1572.5 414.3V420.0M1574.5 417.2V420.4M1575.5 416.4V422.1M1580.5 421.0V425.9M1581.5 418.7V423.5M1582.5 418.9V424.2M1583.5 418.3V422.5M1585.5 413.3V418.2M1586.5 409.0V424.1M1587.5 410.9V417.8M1589.5 408.8V415.7M1591.5 399.8V417.8M1591.5 406.7V412.4M1593.5 409.8V417.2M1594.5 405.2V425.8M1594.5 409.8V418.6M1595.5 412.7V420.2M1596.5 412.5V420.0M1597.5 414.8V423.0M1598.5 414.0V417.9M1599.5 420.5V427.0M1602.5 426.9V430.7M1603.5 423.1V435.9M1606.5 430.4V434.5M1607.5 429.0V435.4M1610.5 429.6V432.2M1610.5 426.7V434.1M1613.5 426.7V429.9M1617.5 422.0V426.5M1618.5 424.5V427.3M1619.5 424.6V428.0M1619.5 424.9V429.0M1621.5 425.2V428.9M1621.5 425.6V429.6M1622.5 425.3V427.6M1623.5 423.2V427.3M1624.5 423.3V427.2M1625.5 423.9V427.5M1627.5 421.4V425.7M1628.5 421.4V424.3M1629.5 416.3V425.7M1630.5 418.7V422.0M1631.5 418.4V422.4M1632.5 419.5V423.8M1634.5 417.9V422.7M1634.5 419.7V423.7M1636.5 418.9V424.1M1638.5 419.1V422.9M1640.5 415.6V421.4M1643.5 412.9V422.2M1644.5 415.8V426.8M1645.5 412.8V432.6M1648.5 436.8V452.5M1648.5 442.3V451.0M1651.5 450.8V459.9M1652.5 438.5V464.8M1653.5 453.9V462.2M1655.5 456.4V463.8M1657.5 461.3V475.5M1657.5 454.1V469.8M1658.5 452.6V471.4M1659.5 459.2V469.9M1660.5 468.7V479.9M1661.5 475.6V492.6M1662.5 476.1V491.6M1663.5 482.1V488.0M1664.5 479.1V494.0M1665.5 481.0V485.7M1666.5 481.3V486.5M1667.5 482.0V488.6M1669.5 479.1V486.6M1671.5 477.5V482.8M1675.5 479.1V484.4M1675.5 478.2V483.3M1676.5 475.7V482.3M1677.5 473.7V478.1M1678.5 474.8V479.9M1683.5 447.3V487.5M1687.5 412.7V432.7M1688.5 413.1V428.1M1689.5 422.6V437.4M1690.5 427.5V442.9M1692.5 420.0V437.4M1695.5 409.6V428.0M1698.5 407.0V418.8M1700.5 398.0V409.6M1702.5 387.0V400.5M1702.5 387.2V394.2M1706.5 391.5V400.2M1709.5 392.1V398.1M1712.5 390.6V395.8M1716.5 396.0V399.5M1718.5 396.3V399.9M1721.5 395.3V399.2M1722.5 396.1V398.1M1723.5 395.2V399.5M1725.5 395.0V397.0M1728.5 392.6V402.2M1729.5 397.9V401.3M1731.5 398.7V401.8M1732.5 398.0V402.4M1732.5 397.7V401.3M1734.5 399.1V403.9M1736.5 405.3V410.0M1738.5 404.8V411.4M1740.5 407.3V411.0M1744.5 407.4V413.1M1747.5 411.1V417.3M1748.5 410.2V416.6M1751.5 413.1V416.2M1753.5 414.8V420.9M1754.5 412.0V420.6M1755.5 415.2V421.3M1756.5 415.2V420.6M1757.5 415.2V421.3M1760.5 418.2V425.1M1763.5 424.6V429.2M1766.5 425.5V431.4" stroke="#08cbe6" stroke-width="1" fill="none"/>
<rect x="424" y="215" width="1.5" height="112" fill="#7c44d8"/>
<rect x="1785" y="428" width="1" height="4" fill="#12d2ec"/>
<path d="M57.5 229.5 C57.6 229.7 59.5 232.0 59.9 233.0 C60.3 234.0 63.3 245.6 63.8 246.7 C64.3 247.8 68.2 250.2 69.0 250.5 C69.8 250.8 76.5 251.6 77.4 251.8 C78.3 252.0 82.5 254.2 83.9 254.4 C85.3 254.6 99.6 254.5 100.7 254.4 C101.8 254.3 102.0 253.0 102.7 252.8 C103.4 252.6 111.6 251.5 112.4 251.2 C113.2 250.9 115.8 248.5 116.3 248.3 C116.8 248.1 120.8 248.1 121.5 248.3 C122.2 248.5 126.8 251.3 127.3 251.2 C127.8 251.1 130.1 247.2 130.5 246.7 C130.9 246.2 134.0 243.4 134.4 242.8 C134.8 242.2 137.3 237.8 137.7 236.9 C138.1 236.0 140.1 228.6 140.3 227.9 C140.5 227.2 141.2 225.3 141.5 225.3 C141.8 225.3 144.4 227.8 144.8 227.9 C145.2 228.0 147.7 226.9 148.0 226.6 C148.3 226.3 150.2 223.7 150.5 223.5 C150.8 223.3 152.2 223.0 152.4 222.6 C152.6 222.2 154.0 217.8 154.3 217.0 C154.6 216.2 156.6 209.4 157.0 208.7 C157.4 208.0 159.9 206.1 160.7 205.9 C161.5 205.7 170.2 205.4 170.9 205.5 C171.6 205.6 172.5 206.5 172.8 206.9 C173.1 207.3 175.2 210.9 175.6 211.5 C176.0 212.1 179.0 216.8 179.3 217.0 C179.6 217.2 180.7 215.8 181.1 215.2 C181.5 214.6 185.9 208.5 186.7 207.8 C187.5 207.1 193.5 203.9 194.1 203.1 C194.7 202.3 196.6 195.6 196.9 194.8 C197.2 194.0 198.3 190.2 198.7 189.3 C199.1 188.4 202.6 180.9 203.3 180.0 C204.0 179.1 209.2 175.1 209.8 174.4 C210.4 173.7 212.3 169.5 212.6 168.9 C212.9 168.3 214.0 165.5 214.4 165.2 C214.8 164.9 218.4 164.6 219.1 164.3 C219.8 164.0 225.7 160.4 226.5 159.6 C227.3 158.8 232.4 151.1 233.0 150.4 C233.6 149.7 235.3 147.8 235.7 147.6 C236.1 147.4 239.3 147.5 240.0 147.5 C240.7 147.5 246.9 147.8 247.5 147.5 C248.1 147.2 248.9 144.4 249.2 143.3 C249.5 142.2 252.2 130.9 252.5 130.0 C252.8 129.1 253.7 128.4 255.0 128.3 C256.4 128.2 273.6 128.5 275.0 128.8 C276.4 129.0 277.8 131.6 278.3 131.7 C278.8 131.8 282.8 130.5 283.3 130.0 C283.8 129.5 285.8 124.6 286.2 123.3 C286.7 122.0 289.6 109.2 290.0 108.3 C290.4 107.4 293.0 108.7 293.3 108.8 C293.6 108.8 294.5 109.5 295.0 109.6 C295.5 109.7 301.1 109.2 301.7 109.6 C302.3 110.0 303.9 115.8 304.2 116.7 C304.5 117.6 306.2 125.2 306.7 125.4 C307.1 125.6 311.1 121.2 311.7 120.8 C312.3 120.3 317.0 118.2 317.5 117.9 C318.0 117.6 319.5 115.9 320.0 115.0 C320.5 114.1 325.3 103.2 325.8 102.5 C326.3 101.8 327.8 102.4 328.3 102.5 C328.8 102.6 333.6 103.8 334.2 104.2 C334.8 104.6 337.7 108.6 338.3 109.2 C338.9 109.8 343.7 113.8 344.2 115.0 C344.7 116.2 346.4 128.1 346.7 129.2 C347.0 130.3 348.2 132.8 349.2 133.3 C350.2 133.8 362.2 137.5 363.3 137.5 C364.4 137.5 366.9 134.5 367.5 133.3 C368.1 132.1 372.7 118.4 373.3 117.5 C373.9 116.6 377.7 117.7 378.3 118.3 C378.9 118.9 382.6 127.2 383.3 128.3 C384.0 129.4 389.4 136.2 390.0 136.7 C390.6 137.2 392.8 136.4 393.3 136.7 C393.8 137.0 397.8 141.3 398.3 141.7 C398.8 142.1 401.2 143.2 401.6 143.2 C402.0 143.2 404.3 142.1 405.2 142.0 C406.1 141.9 416.5 140.6 417.3 140.8 C418.1 141.0 418.9 144.4 419.1 145.6 C419.3 146.8 420.6 159.6 420.9 161.3 C421.2 163.0 423.1 173.1 423.3 174.5 C423.5 175.9 424.4 182.5 424.5 184.2 C424.6 185.9 425.5 200.3 425.7 202.2 C425.9 204.1 427.6 215.2 428.1 216.6 C428.6 218.0 433.5 225.3 434.1 226.3 C434.7 227.3 437.0 233.1 437.7 233.5 C438.4 233.9 445.1 232.9 446.1 233.5 C447.1 234.1 453.4 243.7 454.6 244.3 C455.8 244.9 464.6 244.7 465.4 244.3 C466.2 243.9 467.5 240.1 467.8 238.3 C468.1 236.5 469.8 216.5 470.2 214.2 C470.6 211.9 473.3 201.1 473.8 199.8 C474.3 198.5 477.1 193.6 478.6 193.2 C480.1 192.8 497.7 192.5 499.1 192.6 C500.5 192.7 501.1 194.0 501.5 195.0 C501.9 196.0 504.7 207.8 505.1 209.4 C505.5 211.0 507.1 220.3 507.5 221.5 C507.9 222.7 510.7 229.2 511.1 229.9 C511.5 230.6 513.3 233.3 514.7 233.5 C516.1 233.7 533.8 233.6 535.2 233.5 C536.6 233.4 537.5 231.0 538.0 231.1 C538.5 231.2 543.6 234.8 544.3 235.2 C545.0 235.6 549.2 237.8 549.8 238.0 C550.4 238.2 552.9 238.2 553.5 238.0 C554.1 237.8 559.4 234.1 560.0 234.3 C560.6 234.5 562.5 239.6 562.8 240.7 C563.1 241.8 565.2 250.7 565.6 251.9 C566.0 253.1 569.8 259.6 570.2 260.2 C570.6 260.8 571.6 262.4 572.0 262.5 C572.4 262.6 576.3 262.1 576.7 262.5 C577.1 262.9 578.2 268.4 578.5 269.4 C578.8 270.4 581.0 277.8 581.3 278.7 C581.6 279.6 582.7 284.6 583.1 285.2 C583.5 285.8 587.4 287.8 588.7 288.0 C590.0 288.2 604.1 288.8 605.4 288.0 C606.7 287.2 609.4 275.0 610.0 274.1 C610.6 273.2 613.6 272.3 614.6 272.2 C615.6 272.1 625.7 273.4 626.7 273.1 C627.7 272.8 630.6 267.8 631.3 266.7 C632.0 265.6 637.2 256.4 637.8 255.6 C638.4 254.8 641.0 253.9 641.5 253.7 C642.0 253.5 645.6 253.7 646.1 252.8 C646.6 251.9 649.4 240.0 649.8 238.9 C650.2 237.8 652.3 235.5 652.6 235.2 C652.9 234.9 654.5 233.4 655.4 233.3 C656.3 233.2 666.5 233.0 667.4 233.3 C668.3 233.6 669.8 237.4 670.2 238.9 C670.6 240.4 673.5 257.1 674.2 258.3 C674.9 259.5 680.7 260.0 681.2 259.5 C681.7 259.0 682.3 251.8 682.5 250.0 C682.7 248.2 683.9 230.5 684.2 229.2 C684.5 227.9 686.4 228.3 686.7 228.3 C687.0 228.3 689.7 227.9 690.0 229.2 C690.3 230.5 692.2 248.3 692.5 250.0 C692.8 251.7 693.8 256.8 694.2 257.5 C694.7 258.2 699.0 260.6 700.0 261.0 C701.0 261.4 710.8 264.5 711.7 265.0 C712.6 265.5 714.5 269.7 715.0 270.0 C715.5 270.3 718.7 271.1 719.2 270.0 C719.7 268.9 722.8 253.0 723.3 251.7 C723.8 250.4 727.8 248.6 728.3 248.3 C728.8 248.0 731.2 247.9 731.7 247.5 C732.2 247.1 735.4 241.1 735.8 240.8 C736.2 240.5 737.7 242.8 738.3 242.5 C738.9 242.2 744.1 235.6 745.0 235.0 C745.9 234.4 752.4 233.4 753.3 233.3 C754.2 233.2 759.4 233.2 760.0 233.3 C760.6 233.4 762.7 235.1 763.3 235.0 C763.9 234.9 768.5 232.1 769.2 231.7 C770.0 231.3 774.3 228.9 775.8 228.8 C777.3 228.6 793.6 229.1 795.0 228.8 C796.4 228.4 797.9 223.4 798.3 222.5 C798.7 221.6 801.3 214.1 801.7 213.3 C802.1 212.5 804.7 209.2 805.0 209.2 C805.3 209.2 805.8 213.0 806.1 212.8 C806.4 212.6 809.7 206.5 810.2 205.6 C810.7 204.7 813.8 199.4 814.3 198.5 C814.8 197.6 818.3 191.8 819.3 191.4 C820.3 191.0 830.7 191.1 831.6 191.4 C832.5 191.7 834.2 195.6 834.6 196.5 C835.0 197.4 838.3 206.0 838.7 206.7 C839.1 207.4 841.2 208.1 841.8 208.2 C842.4 208.3 847.4 208.4 847.9 208.2 C848.4 208.0 849.7 205.4 849.9 204.6 C850.1 203.8 851.7 194.9 851.9 194.4 C852.1 193.9 853.7 195.4 854.0 196.5 C854.3 197.6 856.6 211.3 857.0 212.8 C857.4 214.3 860.6 220.5 861.1 220.9 C861.6 221.3 864.6 219.5 865.2 219.4 C865.8 219.3 870.7 219.1 871.3 219.4 C871.9 219.7 874.8 224.2 875.4 225.0 C876.0 225.8 880.9 232.2 881.5 233.1 C882.1 234.0 885.1 238.6 885.5 239.2 C885.9 239.8 888.4 242.8 888.6 243.3 C888.8 243.8 889.4 247.1 889.6 247.4 C889.8 247.7 891.3 248.8 891.6 248.9 C891.9 249.0 894.3 248.4 894.7 248.9 C895.1 249.4 897.4 256.7 897.8 257.6 C898.2 258.5 901.3 264.1 901.8 264.7 C902.3 265.3 904.9 268.1 905.9 268.3 C906.9 268.5 917.2 268.8 918.1 268.3 C919.0 267.8 920.8 260.7 921.2 259.6 C921.6 258.5 923.7 250.1 924.2 249.4 C924.7 248.7 928.6 247.6 929.3 247.4 C930.0 247.2 934.8 245.6 935.4 245.4 C936.0 245.2 939.4 243.4 940.0 243.3 C940.6 243.2 943.9 243.4 944.7 243.3 C945.5 243.2 952.3 241.6 953.1 241.4 C953.9 241.2 957.8 240.9 958.3 240.7 C958.8 240.5 961.6 239.1 962.2 238.8 C962.8 238.5 967.4 236.4 968.1 236.2 C968.8 236.0 973.4 236.0 973.9 236.2 C974.4 236.4 976.7 238.4 977.1 238.8 C977.5 239.2 980.0 242.6 980.4 243.3 C980.8 244.0 982.8 249.8 983.0 250.5 C983.2 251.2 983.4 254.3 983.6 255.0 C983.8 255.7 985.4 260.9 985.6 261.5 C985.8 262.1 986.0 265.0 986.2 265.4 C986.4 265.8 988.4 268.2 988.8 268.6 C989.2 269.0 992.8 271.4 993.3 271.8 C993.8 272.2 996.6 274.8 997.2 275.1 C997.8 275.4 1003.1 276.8 1003.7 277.0 C1004.3 277.2 1006.6 278.4 1006.9 278.7 C1007.2 279.0 1008.8 281.4 1009.2 282.5 C1009.6 283.6 1012.7 296.3 1013.3 297.5 C1013.9 298.7 1018.5 301.4 1019.2 303.3 C1019.9 305.2 1024.5 328.2 1025.0 330.0 C1025.5 331.8 1027.1 332.7 1028.3 332.9 C1029.5 333.1 1043.7 333.3 1045.0 332.9 C1046.3 332.4 1049.2 325.8 1050.0 325.4 C1050.8 324.9 1056.8 326.1 1057.5 325.4 C1058.2 324.7 1061.1 313.9 1061.7 313.3 C1062.3 312.7 1066.1 314.3 1066.7 315.0 C1067.3 315.7 1070.7 323.6 1071.7 324.2 C1072.7 324.8 1082.3 323.7 1083.3 324.2 C1084.3 324.7 1087.9 332.7 1088.3 333.3 C1088.7 333.9 1089.6 334.5 1090.0 334.2 C1090.4 333.9 1094.5 329.7 1095.0 328.3 C1095.5 326.9 1098.0 313.1 1098.3 311.7 C1098.6 310.3 1099.6 305.4 1100.0 305.0 C1100.4 304.6 1103.6 304.4 1104.2 305.0 C1104.8 305.6 1109.4 313.3 1110.0 314.2 C1110.6 315.1 1114.3 318.9 1115.0 319.2 C1115.7 319.5 1121.0 319.2 1121.7 319.2 C1122.4 319.2 1126.0 320.0 1126.7 320.0 C1127.4 320.0 1132.7 320.4 1133.3 320.0 C1133.9 319.6 1136.9 314.7 1137.5 313.3 C1138.1 311.9 1142.5 299.2 1143.3 297.5 C1144.0 295.8 1149.2 285.3 1150.0 284.2 C1150.8 283.1 1155.2 279.6 1155.8 279.2 C1156.4 278.8 1159.6 278.3 1160.0 278.3 C1160.4 278.3 1160.7 279.5 1161.7 279.4 C1162.7 279.3 1174.7 276.3 1175.9 276.2 C1177.1 276.1 1181.8 276.1 1182.4 276.9 C1183.0 277.7 1185.9 288.3 1186.3 289.8 C1186.7 291.3 1188.4 300.4 1188.9 301.5 C1189.4 302.6 1193.3 307.5 1194.1 308.0 C1194.9 308.5 1201.1 310.2 1201.9 309.3 C1202.7 308.4 1206.5 293.3 1207.0 292.4 C1207.5 291.5 1209.2 292.3 1209.6 293.7 C1210.0 295.1 1212.9 314.0 1213.5 315.7 C1214.1 317.4 1219.2 322.0 1220.0 322.2 C1220.8 322.4 1225.7 319.8 1226.5 319.6 C1227.3 319.4 1232.3 319.0 1233.0 319.6 C1233.7 320.2 1237.7 328.8 1238.2 330.0 C1238.7 331.2 1241.5 339.5 1242.0 340.4 C1242.5 341.3 1245.3 344.3 1245.9 345.6 C1246.5 346.9 1251.7 360.5 1252.4 362.4 C1253.1 364.3 1256.9 375.5 1257.6 376.7 C1258.3 377.9 1263.4 381.4 1264.1 381.9 C1264.8 382.4 1267.9 384.2 1269.3 384.4 C1270.7 384.5 1286.2 384.6 1287.4 384.4 C1288.6 384.2 1289.6 380.9 1290.0 380.6 C1290.4 380.3 1293.7 379.6 1294.3 379.5 C1294.9 379.4 1299.2 379.5 1299.8 379.1 C1300.4 378.7 1303.1 373.6 1303.5 373.5 C1303.9 373.4 1306.0 376.5 1306.3 377.2 C1306.6 377.9 1308.7 383.8 1309.1 384.6 C1309.5 385.4 1312.4 390.7 1312.8 391.1 C1313.2 391.5 1316.1 392.1 1316.5 392.0 C1316.9 391.9 1318.6 389.8 1319.3 389.7 C1320.0 389.6 1326.9 389.4 1327.6 389.7 C1328.3 390.0 1330.7 393.8 1331.3 394.8 C1331.9 395.8 1336.3 405.7 1336.9 406.9 C1337.5 408.1 1340.9 413.9 1341.5 415.2 C1342.1 416.5 1345.6 427.3 1346.1 428.1 C1346.6 428.9 1348.6 428.6 1349.8 428.6 C1351.0 428.6 1364.5 428.4 1365.6 428.1 C1366.7 427.8 1367.8 424.0 1368.3 423.5 C1368.8 423.0 1373.3 420.1 1373.9 419.8 C1374.5 419.5 1378.1 418.6 1378.5 418.9 C1378.9 419.2 1380.1 423.2 1380.4 424.4 C1380.7 425.6 1383.7 437.6 1384.1 438.3 C1384.5 439.0 1386.6 436.6 1386.9 435.6 C1387.2 434.6 1388.5 423.4 1388.7 421.7 C1388.9 420.0 1390.3 407.9 1390.6 406.9 C1390.9 405.9 1393.7 405.0 1394.3 405.0 C1394.9 405.0 1400.1 406.4 1400.7 406.9 C1401.3 407.4 1403.2 411.8 1403.5 413.3 C1403.8 414.8 1405.2 429.8 1405.4 431.9 C1405.6 434.0 1406.9 446.2 1407.2 447.6 C1407.5 449.0 1410.5 454.3 1410.9 455.0 C1411.3 455.7 1413.8 458.8 1414.3 459.8 C1414.8 460.8 1418.5 470.3 1418.9 471.9 C1419.3 473.5 1421.4 485.1 1421.7 486.7 C1422.0 488.3 1423.2 497.9 1423.5 498.7 C1423.8 499.5 1426.0 500.5 1427.2 500.6 C1428.4 500.7 1442.6 501.1 1443.9 500.6 C1445.2 500.1 1448.6 492.4 1449.4 491.8 C1450.2 491.2 1456.3 491.7 1456.9 491.3 C1457.5 490.9 1459.3 486.0 1459.6 484.8 C1459.9 483.6 1462.1 473.0 1462.4 471.9 C1462.7 470.8 1464.8 466.8 1465.2 466.3 C1465.6 465.8 1469.0 464.1 1469.8 463.5 C1470.6 462.9 1478.3 457.8 1479.1 457.0 C1479.9 456.2 1483.3 451.0 1483.7 450.6 C1484.1 450.2 1484.9 449.7 1485.6 449.6 C1486.3 449.5 1494.9 449.4 1495.7 449.6 C1496.5 449.8 1498.2 452.9 1498.5 453.3 C1498.8 453.7 1500.1 457.3 1500.4 457.0 C1500.7 456.7 1502.8 448.7 1503.1 447.8 C1503.4 446.9 1504.7 442.6 1505.0 442.2 C1505.3 441.8 1507.4 441.6 1507.8 441.8 C1508.2 442.0 1511.0 444.3 1511.5 445.0 C1512.0 445.7 1515.6 452.6 1516.1 453.3 C1516.6 454.0 1519.0 456.7 1519.8 457.0 C1520.6 457.3 1527.9 457.9 1529.1 458.0 C1530.3 458.1 1539.2 457.8 1540.2 458.0 C1541.2 458.2 1544.5 460.8 1545.0 460.7 C1545.5 460.6 1548.0 457.7 1548.3 456.7 C1548.6 455.7 1549.1 444.9 1549.3 443.7 C1549.5 442.5 1550.9 437.1 1551.1 436.3 C1551.3 435.5 1552.6 430.7 1553.0 429.8 C1553.4 428.9 1557.8 422.2 1558.5 421.5 C1559.2 420.8 1563.5 418.1 1564.1 417.8 C1564.7 417.5 1567.0 416.0 1567.8 415.9 C1568.6 415.8 1576.0 415.6 1577.0 415.9 C1578.0 416.2 1583.6 421.3 1584.4 421.5 C1585.2 421.7 1590.3 419.3 1590.9 418.7 C1591.5 418.1 1594.3 411.6 1594.6 411.3 C1594.9 411.0 1596.2 412.5 1596.5 413.1 C1596.8 413.7 1598.8 420.1 1599.3 420.6 C1599.8 421.1 1604.1 421.2 1604.8 421.5 C1605.5 421.8 1610.2 425.0 1611.3 425.2 C1612.4 425.4 1622.2 425.6 1623.3 425.6 C1624.4 425.6 1628.9 426.0 1629.8 425.6 C1630.7 425.2 1637.3 420.1 1638.1 419.6 C1638.9 419.1 1642.1 417.0 1642.8 416.9 C1643.5 416.8 1648.8 417.6 1649.3 417.8 C1649.8 418.0 1650.9 420.0 1651.1 420.6 C1651.3 421.2 1651.9 425.6 1652.0 427.0 C1652.1 428.4 1652.8 442.1 1653.0 443.7 C1653.2 445.3 1654.5 451.8 1654.8 453.0 C1655.1 454.2 1657.3 462.4 1657.6 463.1 C1657.9 463.8 1660.1 464.1 1660.4 464.1 C1660.7 464.1 1662.8 462.8 1663.1 463.1 C1663.4 463.4 1665.6 468.0 1665.9 468.7 C1666.2 469.4 1668.4 474.6 1668.7 475.2 C1669.0 475.8 1670.8 477.8 1671.5 478.0 C1672.2 478.2 1679.2 478.0 1680.0 478.0 C1680.8 478.0 1683.9 478.1 1684.3 477.8 C1684.7 477.5 1687.0 474.7 1687.3 473.7 C1687.6 472.7 1689.1 462.1 1689.3 460.4 C1689.5 458.7 1690.2 447.2 1690.4 445.2 C1690.6 443.2 1692.0 428.3 1692.4 426.8 C1692.8 425.3 1696.0 420.6 1696.5 419.7 C1697.0 418.8 1700.0 412.7 1700.5 411.6 C1701.0 410.5 1705.1 402.3 1705.6 401.4 C1706.1 400.5 1707.2 397.6 1708.7 397.3 C1710.2 397.0 1729.4 396.7 1731.1 396.8 C1732.8 396.9 1735.7 398.9 1736.2 399.3 C1736.7 399.7 1738.8 402.9 1739.2 403.4 C1739.6 403.9 1741.8 407.1 1742.3 407.5 C1742.8 407.9 1746.7 409.3 1747.4 409.5 C1748.1 409.7 1753.9 410.2 1754.5 410.5 C1755.1 410.8 1757.2 414.7 1757.6 415.1 C1758.0 415.5 1760.3 417.2 1760.6 417.7 C1760.9 418.2 1762.5 423.1 1762.7 423.8 C1762.9 424.5 1764.6 428.6 1764.7 428.9" stroke="#d8d8d8" stroke-width="1.15" fill="none" stroke-linejoin="round"/>
<rect x="154.8" y="243.25" width="17.19999999999999" height="1.5" fill="#ff9800"/>
<rect x="986.7" y="233.25" width="6.7999999999999545" height="1.5" fill="#ff9800"/>
<rect x="1405.8" y="389.25" width="11.700000000000045" height="1.5" fill="#ff9800"/>
<rect x="1550.7" y="463.85" width="42.09999999999991" height="1.5" fill="#ff9800"/>
<rect x="1652.6" y="426.45" width="10.200000000000045" height="1.5" fill="#ff9800"/>
<rect x="1691.5" y="459.85" width="69.5" height="1.5" fill="#ff9800"/>
<path d="M137.9 252.5h3.2v-9.8h3.4l-5 -5.2l-5 5.2h3.4z" fill="#2f66ff"/>
<path d="M138.0 224.6L132.8 219.9L132.8 229.3z" fill="#2f66ff"/>
<path d="M140.9 201.2h3.2v9.8h3.7l-5.3 4.3l-5.3 -4.3h3.7z" fill="#e100ff"/>
<rect x="137.0" y="216.2" width="11" height="2.1" fill="#e100ff"/>
<path d="M143.0 230.7L148.2 226.0L148.2 235.4z" fill="#e100ff"/>
<path d="M154.2 236.2h3.2v-9.8h3.4l-5 -5.2l-5 5.2h3.4z" fill="#2f66ff"/>
<path d="M153.3 209.3L148.1 204.6L148.1 214.0z" fill="#2f66ff"/>
<path d="M170.4 187.0h3.2v9.8h3.7l-5.3 4.3l-5.3 -4.3h3.7z" fill="#e100ff"/>
<rect x="166.5" y="202.0" width="11" height="2.1" fill="#e100ff"/>
<path d="M173.4 216.5L178.6 211.8L178.6 221.2z" fill="#e100ff"/>
<path d="M198.1 180.8L192.9 176.1L192.9 185.5z" fill="#2f66ff"/>
<path d="M198.0 209.0h3.2v-9.8h3.4l-5 -5.2l-5 5.2h3.4z" fill="#2f66ff"/>
<path d="M210.2 130.0h3.2v9.8h3.7l-5.3 4.3l-5.3 -4.3h3.7z" fill="#e100ff"/>
<rect x="206.3" y="145.0" width="11" height="2.1" fill="#e100ff"/>
<path d="M213.4 161.5L218.6 156.8L218.6 166.2z" fill="#e100ff"/>
<path d="M348.1 113.5h3.2v9.8h3.4l-5 5.2l-5 -5.2h3.4z" fill="#ff1a4a"/>
<path d="M361.5 126.7L356.3 122.0L356.3 131.4z" fill="#e100ff"/>
<path d="M349.9 141L355.1 136.3L355.1 145.7z" fill="#ff1a4a"/>
<rect x="358.1" y="143.8" width="11" height="2.1" fill="#e100ff"/>
<path d="M362.0 160.8h3.2v-9.8h3.7l-5.3 -4.3l-5.3 4.3h3.7z" fill="#e100ff"/>
<path d="M419.4 146.9h3.2v9.8h3.4l-5 5.2l-5 -5.2h3.4z" fill="#ff1a4a"/>
<path d="M422.9 174L428.1 169.3L428.1 178.7z" fill="#ff1a4a"/>
<path d="M421.2 194.7L416.0 190.0L416.0 199.4z" fill="#e100ff"/>
<rect x="417.8" y="230.7" width="11" height="2.1" fill="#e100ff"/>
<path d="M421.7 247.7h3.2v-9.8h3.7l-5.3 -4.3l-5.3 4.3h3.7z" fill="#e100ff"/>
<path d="M580.6 250.8h3.2v9.8h3.4l-5 5.2l-5 -5.2h3.4z" fill="#ff1a4a"/>
<path d="M580.9 279.4L575.7 274.7L575.7 284.1z" fill="#e100ff"/>
<path d="M583.8 293.3L589.0 288.6L589.0 298.0z" fill="#ff1a4a"/>
<rect x="576.7" y="304.2" width="11" height="2.1" fill="#e100ff"/>
<path d="M580.6 321.2h3.2v-9.8h3.7l-5.3 -4.3l-5.3 4.3h3.7z" fill="#e100ff"/>
<path d="M687.8 209.5h3.2v9.8h3.7l-5.3 4.3l-5.3 -4.3h3.7z" fill="#e100ff"/>
<rect x="683.9" y="224.5" width="11" height="2.1" fill="#e100ff"/>
<path d="M683.3 226L678.1 221.3L678.1 230.7z" fill="#2f66ff"/>
<path d="M683.6 253.8h3.2v-9.8h3.4l-5 -5.2l-5 5.2h3.4z" fill="#2f66ff"/>
<path d="M690.5 244.8L695.7 240.1L695.7 249.5z" fill="#e100ff"/>
<path d="M985.8 241.0h3.2v9.8h3.4l-5 5.2l-5 -5.2h3.4z" fill="#ff1a4a"/>
<path d="M992.4 260L987.2 255.3L987.2 264.7z" fill="#e100ff"/>
<path d="M989.1 270.4L994.3 265.7L994.3 275.1z" fill="#ff1a4a"/>
<rect x="988.0" y="277.5" width="11" height="2.1" fill="#e100ff"/>
<path d="M991.9 294.5h3.2v-9.8h3.7l-5.3 -4.3l-5.3 4.3h3.7z" fill="#e100ff"/>
<path d="M1239.2 324.0h3.2v9.8h3.4l-5 5.2l-5 -5.2h3.4z" fill="#ff1a4a"/>
<path d="M1240.1 338.8L1234.9 334.1L1234.9 343.5z" fill="#e100ff"/>
<rect x="1236.3" y="353.4" width="11" height="2.1" fill="#e100ff"/>
<path d="M1240.2 370.4h3.2v-9.8h3.7l-5.3 -4.3l-5.3 4.3h3.7z" fill="#e100ff"/>
<path d="M1404.7 433.8h3.2v9.8h3.4l-5 5.2l-5 -5.2h3.4z" fill="#ff1a4a"/>
<path d="M1407.9 459.3L1413.1 454.6L1413.1 464.0z" fill="#ff1a4a"/>
<path d="M1417.1 485.5L1411.9 480.8L1411.9 490.2z" fill="#e100ff"/>
<rect x="1412.8" y="522.1" width="11" height="2.1" fill="#e100ff"/>
<path d="M1416.7 539.1h3.2v-9.8h3.7l-5.3 -4.3l-5.3 4.3h3.7z" fill="#e100ff"/>
<path d="M1591.7 374.7h3.2v9.8h3.7l-5.3 4.3l-5.3 -4.3h3.7z" fill="#e100ff"/>
<rect x="1587.8" y="389.7" width="11" height="2.1" fill="#e100ff"/>
<path d="M1594.4 402.2L1599.6 397.5L1599.6 406.9z" fill="#e100ff"/>
<path d="M1549.6 431L1544.4 426.3L1544.4 435.7z" fill="#2f66ff"/>
<path d="M1550.1 458.6h3.2v-9.8h3.4l-5 -5.2l-5 5.2h3.4z" fill="#2f66ff"/>
<path d="M1651.9 429.0h3.2v9.8h3.4l-5 5.2l-5 -5.2h3.4z" fill="#ff1a4a"/>
<path d="M1654.6 457.4L1659.8 452.7L1659.8 462.1z" fill="#ff1a4a"/>
<path d="M1661.6 472.6L1656.4 467.9L1656.4 477.3z" fill="#e100ff"/>
<rect x="1657.5" y="489.5" width="11" height="2.1" fill="#e100ff"/>
<path d="M1661.4 506.5h3.2v-9.8h3.7l-5.3 -4.3l-5.3 4.3h3.7z" fill="#e100ff"/>
<path d="M1690.6 414.8L1685.4 410.1L1685.4 419.5z" fill="#2f66ff"/>
<path d="M1690.8 442.5h3.2v-9.8h3.4l-5 -5.2l-5 5.2h3.4z" fill="#2f66ff"/>
<path d="M1759.9 396.6h3.2v9.8h3.7l-5.3 4.3l-5.3 -4.3h3.7z" fill="#e100ff"/>
<rect x="1756.0" y="411.6" width="11" height="2.1" fill="#e100ff"/>
<path d="M1762.9 428L1768.1 423.3L1768.1 432.7z" fill="#e100ff"/>
</svg>
</div>
<div class="p" style="left:56px;top:631px;width:1815px;height:449px;border-top-left-radius:6px;border-top-right-radius:6px"></div>
<div style="position:absolute;left:56px;top:42px;width:1815px;height:546px;overflow:hidden;border-top-left-radius:6px;border-top-right-radius:6px;will-change:transform">
<svg width="1815" height="546" viewBox="56 42 1815 546" style="position:absolute;left:0;top:0" font-family='"Liberation Sans", sans-serif'>
<g font-family="Liberation Sans, sans-serif" font-size="12" fill="#c2c2c4" text-anchor="middle">
<text x="348.6" y="89.0">-0.347</text>
<text x="348.6" y="102.3">SHORT</text>
<text x="420.5" y="122.1">-0.338</text>
<text x="420.5" y="136.0">SHORT</text>
<text x="363.6" y="177.6">SL</text>
<text x="363.6" y="192.1">+0.347</text>
<text x="423.3" y="264.3">TP</text>
<text x="423.3" y="278.7">+0.338</text>
<text x="581.7" y="226.0">-0.277</text>
<text x="581.7" y="239.9">SHORT</text>
<text x="581.7" y="339.3">SL SHORT close</text>
<text x="581.7" y="353.2">+0.277</text>
<text x="141.5" y="177.0">-0.249</text>
<text x="141.5" y="190.2">SL</text>
<text x="173" y="162.3">-0.361</text>
<text x="173" y="176.6">SL</text>
<text x="210.8" y="105.3">-0.341</text>
<text x="210.8" y="118.9">Limit TP</text>
<text x="199.6" y="225.3">Long</text>
<text x="199.6" y="239.1">+0.341</text>
<text x="156.8" y="253.3">Long</text>
<text x="156.8" y="267.0">+0.361</text>
<text x="141.5" y="268.6">Long</text>
<text x="141.5" y="281.9">+0.249</text>
<text x="688.9" y="185.4">-0.231</text>
<text x="688.9" y="199.1">SL</text>
<text x="684.8" y="270.0">Long</text>
<text x="684.8" y="283.9">+0.231</text>
<text x="988" y="217.3">-0.361</text>
<text x="988" y="230.6">SHORT</text>
<text x="993" y="311.7">SL</text>
<text x="993" y="326.0">+0.361</text>
<text x="1240" y="300.1">-0.226</text>
<text x="1240" y="313.8">SHORT</text>
<text x="1241.8" y="388.1">SL</text>
<text x="1241.8" y="401.8">+0.226</text>
<text x="1407.5" y="408.1">-0.196</text>
<text x="1407.5" y="421.8">SHORT</text>
<text x="1419" y="555.1">TP</text>
<text x="1593.9" y="350.4">-0.348</text>
<text x="1593.9" y="363.9">Limit TP</text>
<text x="1552" y="476.5">Long</text>
<text x="1552" y="489.9">+0.348</text>
<text x="1652.6" y="404.3">-0.469</text>
<text x="1652.6" y="418.0">SHORT</text>
<text x="1663.7" y="523.6">TP</text>
<text x="1663.7" y="537.3">+0.469</text>
<text x="1693" y="460.3">Long</text>
<text x="1693" y="473.6">+0.307</text>
<text x="1761.9" y="372.3">-0.307</text>
<text x="1761.9" y="386.2">SL</text>
</g>
<g font-family="Liberation Sans, sans-serif" font-size="12" fill="#e8e8ea">
<text x="58.7" y="578" text-anchor="middle">26</text>
<text x="178.7" y="578" text-anchor="middle" font-weight="bold">Oct</text>
<text x="250.7" y="578" text-anchor="middle">4</text>
<text x="322.7" y="578" text-anchor="middle">7</text>
<text x="394.7" y="578" text-anchor="middle">10</text>
<text x="466.7" y="578" text-anchor="middle">13</text>
<text x="538.7" y="578" text-anchor="middle">16</text>
<text x="610.7" y="578" text-anchor="middle">19</text>
<text x="682.7" y="578" text-anchor="middle">22</text>
<text x="754.7" y="578" text-anchor="middle">25</text>
<text x="826.7" y="578" text-anchor="middle">28</text>
<text x="922.7" y="578" text-anchor="middle" font-weight="bold">Nov</text>
<text x="994.7" y="578" text-anchor="middle">4</text>
<text x="1066.7" y="578" text-anchor="middle">7</text>
<text x="1138.7" y="578" text-anchor="middle">10</text>
<text x="1210.7" y="578" text-anchor="middle">13</text>
<text x="1282.7" y="578" text-anchor="middle">16</text>
<text x="1354.7" y="578" text-anchor="middle">19</text>
<text x="1426.7" y="578" text-anchor="middle">22</text>
<text x="1498.7" y="578" text-anchor="middle">25</text>
<text x="1570.7" y="578" text-anchor="middle">28</text>
<text x="1642.7" y="578" text-anchor="middle" font-weight="bold">Dec</text>
<text x="1714.7" y="578" text-anchor="middle">4</text>
<text x="1786.7" y="578" text-anchor="middle">7</text>
</g>
<g font-family="Liberation Sans, sans-serif" font-size="12" fill="#e8e8ea" text-anchor="start">
<text x="1808" y="80.4">128,000.0</text>
<text x="1808" y="117.6">124,000.0</text>
<text x="1808" y="154.8">120,000.0</text>
<text x="1808" y="192.0">116,000.0</text>
<text x="1808" y="229.2">112,000.0</text>
<text x="1808" y="266.4">108,000.0</text>
<text x="1808" y="303.6">104,000.0</text>
<text x="1808" y="340.8">100,000.0</text>
<text x="1808" y="378.0">96,000.0</text>
<text x="1808" y="415.2">92,000.0</text>
<text x="1808" y="489.6">84,000.0</text>
<text x="1808" y="526.8">80,000.0</text>
</g>
<circle cx="77" cy="54.5" r="5.5" fill="#1d9a8f"/>
<path d="M74.5 53.5l2.5-2h3l1.5 2l-3.5 3.5z" fill="#e8f6f4"/>
<circle cx="70.8" cy="60.7" r="6.3" fill="#f7931a" stroke="#5d606b" stroke-width="0.8"/>
<text x="70.8" y="64" font-size="8.5" font-weight="bold" fill="#fff" text-anchor="middle">₿</text>
<text x="87.4" y="63.3" font-size="16" fill="#ededed" text-anchor="start">BTCUSDT.P</text>
<text x="181.7" y="63.3" font-size="16" fill="#ededed" text-anchor="middle">·</text>
<text x="188" y="63.3" font-size="16" fill="#ededed" text-anchor="start">30</text>
<text x="211.8" y="63.3" font-size="16" fill="#ededed" text-anchor="middle">·</text>
<text x="218.2" y="63.3" font-size="16" fill="#ededed" text-anchor="start">Bybit</text>
<circle cx="270" cy="58" r="9" fill="#55606a" fill-opacity="0.9"/>
<circle cx="270" cy="58" r="4.3" fill="#089981"/>
<rect x="66.5" y="78.5" width="7" height="8" fill="none" stroke="#d8d8d8" stroke-width="1"/>
<text x="78.3" y="86.7" font-size="13" fill="#ececec" text-anchor="start" stroke="#3e4049" stroke-opacity="0.5" stroke-width="2" paint-order="stroke">SuperF Dead [v5] by @DaviddTech</text>
<rect x="287.5" y="78.5" width="7" height="8" fill="none" stroke="#d8d8d8" stroke-width="1"/>
<circle cx="312.7" cy="81.7" r="9" fill="#4f63a6" fill-opacity="0.45"/>
<path d="M310 76v5M308 79.5l2 2l2-2M315 87v-5M313 83.5l2-2l2 2" stroke="#2f6bff" stroke-width="1.4" fill="none"/>
<rect x="64.5" y="97.5" width="28" height="20" rx="3" fill="#5d606b" stroke="#3c3e46" stroke-width="1"/>
<g fill="none" stroke="#dbdbdb" stroke-width="1.2" stroke-linecap="round" stroke-linejoin="round"><path d="M74.5 109.5l4-4l4 4"/></g>
<path d="M66 529h13.5v19h-7.5v-12.5h-6z" fill="#f5f5f5" stroke="#111" stroke-width="1.2"/>
<circle cx="85" cy="532" r="3" fill="#f5f5f5" stroke="#111" stroke-width="1.2"/>
<path d="M91 529h9.5l-8.5 19h-7z" fill="#f5f5f5" stroke="#111" stroke-width="1.2"/>
<rect x="1800" y="420" width="60" height="14" rx="2" fill="#ff9800"/>
<rect x="1800" y="456" width="60" height="14" rx="2" fill="#ff9800"/>
<text x="1808.3" y="431.5" font-size="12" fill="#111" text-anchor="start">90,281.2</text>
<text x="1808.3" y="467" font-size="12" fill="#111" text-anchor="start">86,721.0</text>
<rect x="1800" y="431.5" width="59" height="30" rx="2" fill="#673ab7"/>
<text x="1807.5" y="443.5" font-size="12" fill="#f0f0f0" text-anchor="start">89,011.4</text>
<text x="1807.5" y="457" font-size="12" fill="#f0f0f0" text-anchor="start">07:41</text>
<rect x="1724" y="431" width="75" height="17" rx="2" fill="#673ab7"/>
<text x="1728.5" y="444" font-size="12" fill="#f0f0f0" text-anchor="start">BTCUSDT.P</text>
<clipPath id="ltc"><rect x="1770" y="530" width="29" height="30"/></clipPath>
<g clip-path="url(#ltc)"><circle cx="1794.4" cy="547.4" r="11" fill="#1a1a1a"/><circle cx="1794.4" cy="547.4" r="9.8" fill="#0f0f0f" stroke="#b23fd6" stroke-width="1.3"/>
<path d="M1798.4 541.6L1790.4 548.6H1795.2L1790.9 553.3L1799 546.3H1794.2Z" fill="#c93ff0"/></g>
<g fill="none" stroke="#d8d8d8" stroke-width="1.1" stroke-linecap="round" stroke-linejoin="round"><path d="M1828.3 574.4L1831.8 568.3H1838.8L1842.3 574.4L1838.8 580.5H1831.8Z"/><circle cx="1835.4" cy="574.4" r="2.3"/></g>
</svg>
</div>
<svg width="1920" height="40" viewBox="0 0 1920 40" style="position:absolute;left:0px;top:0px" font-family='"Liberation Sans", sans-serif'><circle cx="26" cy="19" r="13" fill="#5a7fa9"/>
<text x="26" y="25.5" font-size="18" fill="#fff" text-anchor="middle">D</text>
<circle cx="40.8" cy="9.9" r="9.6" fill="#f23645" stroke="#0f0f0f" stroke-width="1.5"/>
<text x="40.8" y="14" font-size="11.5" fill="#fff" text-anchor="middle">11</text>
<g fill="none" stroke="#dbdbdb" stroke-width="1.5" stroke-linecap="round" stroke-linejoin="round"><circle cx="69.5" cy="17.5" r="5.3"/><path d="M73.5 21.5l3.8 3.8"/></g>
<g fill="none" stroke="#dbdbdb" stroke-width="1.1" stroke-linecap="round" stroke-linejoin="round"><circle cx="170" cy="19" r="9"/><path d="M170 14v10M165 19h10"/></g>
<rect x="194" y="8" width="1" height="22" fill="#444"/>
<rect x="490" y="8" width="1" height="22" fill="#444"/>
<rect x="537" y="8" width="1" height="22" fill="#444"/>
<rect x="716" y="8" width="1" height="22" fill="#444"/>
<rect x="892" y="8" width="1" height="22" fill="#444"/>
<rect x="1684" y="8" width="1" height="22" fill="#444"/>
<rect x="303" y="2" width="35" height="34" rx="7" fill="#3c3c3c"/>
<g fill="none" stroke="#dbdbdb" stroke-width="1.1" stroke-linecap="round" stroke-linejoin="round"><path d="M470.5 17.5l3.5 3l3.5-3"/></g>
<g fill="none" stroke="#dbdbdb" stroke-width="1.1" stroke-linecap="round" stroke-linejoin="round"><rect x="508.5" y="13" width="4" height="11"/><path d="M510.5 9v4M510.5 24v5"/><rect x="516.5" y="15" width="4" height="7"/><path d="M518.5 11v4M518.5 22v4"/></g>
<g fill="none" stroke="#dbdbdb" stroke-width="1.1" stroke-linecap="round" stroke-linejoin="round"><path d="M553.5 27.5V23.8H557V20.4H561.5V23.1H565.5V17.4H569.5V27.5Z"/><path d="M557 27.5V23.8M561.5 27.5V23.1M565.5 27.5V23.1"/><path d="M553.3 16.8L557.5 12.2L562 15.2L569.7 10"/></g>
<g fill="none" stroke="#dbdbdb" stroke-width="1.1" stroke-linecap="round" stroke-linejoin="round"><path d="M658 17.5l3.5 3l3.5-3"/></g>
<g fill="none" stroke="#dbdbdb" stroke-width="1.1" stroke-linecap="round" stroke-linejoin="round"><rect x="685.5" y="11.5" width="6" height="6" rx="1.5"/><rect x="694" y="11.5" width="6" height="6" rx="1.5"/><rect x="685.5" y="20" width="6" height="6" rx="1.5"/><rect x="694" y="20" width="6" height="6" rx="1.5"/></g>
<g fill="none" stroke="#dbdbdb" stroke-width="1.1" stroke-linecap="round" stroke-linejoin="round"><circle cx="739.5" cy="19.5" r="8.5"/><path d="M739.5 14v6h-4M730.5 12l3-3M748.5 12l-3-3M745.5 22.5v6M742.5 25.5h6"/></g>
<rect x="742" y="21" width="7" height="8" fill="#0f0f0f"/>
<g fill="none" stroke="#dbdbdb" stroke-width="1.1" stroke-linecap="round" stroke-linejoin="round"><path d="M745.5 22v6.5M742.3 25.3h6.5"/></g>
<g fill="none" stroke="#dbdbdb" stroke-width="1.1" stroke-linecap="round" stroke-linejoin="round"><path d="M816 13v12l-6.5-6z"/><path d="M823 13v12l-6.5-6z"/></g>
<g fill="none" stroke="#5e5e5e" stroke-width="1.1" stroke-linecap="round" stroke-linejoin="round"><path d="M922.2 24C922.2 20.5 920.2 18.3 916.8 18.3H909.2M912.8 14.6L909.1 18.3L912.8 22"/></g>
<g fill="none" stroke="#5e5e5e" stroke-width="1.1" stroke-linecap="round" stroke-linejoin="round"><path d="M946.7 24C946.7 20.5 948.7 18.3 952.1 18.3H959.7M956.1 14.6L959.8 18.3L956.1 22"/></g>
<g fill="none" stroke="#dbdbdb" stroke-width="1.2" stroke-linecap="round" stroke-linejoin="round"><rect x="1517.5" y="11.5" width="18.2" height="16" rx="2.2"/></g>
<g fill="none" stroke="#dbdbdb" stroke-width="1.1" stroke-linecap="round" stroke-linejoin="round"><path d="M1664 17.5l3.5 3l3.5-3"/></g>
<g fill="none" stroke="#dbdbdb" stroke-width="1.1" stroke-linecap="round" stroke-linejoin="round"><path d="M1708.3 12.2A7 7 0 1 0 1712.6 21.5"/><path d="M1711.8 24.2l4.6 4.6"/></g>
<g fill="none" stroke="#dbdbdb" stroke-width="1.1" stroke-linecap="round" stroke-linejoin="round"><path d="M1710.2 7.9L1705.9 15.8H1709.5L1708.3 21L1713.2 13.4H1709.7L1711 7.9Z"/></g>
<g fill="none" stroke="#dbdbdb" stroke-width="1.1" stroke-linecap="round" stroke-linejoin="round"><path d="M1735.9 19L1741 10.2H1751.2L1756.3 19L1751.2 27.8H1741Z"/><circle cx="1746.1" cy="19" r="3.8"/></g>
<g fill="none" stroke="#dbdbdb" stroke-width="1.1" stroke-linecap="round" stroke-linejoin="round"><path d="M1776.3 15.2v-2.4a1.7 1.7 0 0 1 1.7-1.7h2.4M1787.4 11.1h2.4a1.7 1.7 0 0 1 1.7 1.7v2.4M1791.5 22.8v2.4a1.7 1.7 0 0 1-1.7 1.7h-2.4M1780.4 26.9h-2.4a1.7 1.7 0 0 1-1.7-1.7v-2.4"/></g>
<g fill="none" stroke="#dbdbdb" stroke-width="1.1" stroke-linecap="round" stroke-linejoin="round"><path d="M1811.5 13.5h3.8l1.2-2.8h9.8l1.2 2.8h3.8a.6 .6 0 0 1 .6 .6v12.2a.6 .6 0 0 1-.6 .6h-19.2a.6 .6 0 0 1-.6-.6v-12.2a.6 .6 0 0 1 .6-.6z"/><circle cx="1821.5" cy="19.3" r="4.2"/></g>
<rect x="1845" y="5" width="69.5" height="28" rx="14" fill="#f2f2f2"/><text x="84" y="24" font-size="14" fill="#ececec" text-anchor="start" font-weight="bold">BTCUSD</text>
<text x="205" y="24" font-size="14" fill="#dbdbdb" text-anchor="start">1m</text>
<text x="236" y="24" font-size="14" fill="#dbdbdb" text-anchor="start">5m</text>
<text x="268" y="24" font-size="14" fill="#dbdbdb" text-anchor="start">15m</text>
<text x="307" y="24" font-size="14" fill="#dbdbdb" text-anchor="start">30m</text>
<text x="346" y="24" font-size="14" fill="#dbdbdb" text-anchor="start">45m</text>
<text x="386" y="24" font-size="14" fill="#dbdbdb" text-anchor="start">1h</text>
<text x="413" y="24" font-size="14" fill="#dbdbdb" text-anchor="start">2h</text>
<text x="441" y="24" font-size="14" fill="#dbdbdb" text-anchor="start">4h</text>
<text x="580" y="24" font-size="14" fill="#dbdbdb" text-anchor="start">Indicators</text>
<text x="758" y="24" font-size="14" fill="#dbdbdb" text-anchor="start">Alert</text>
<text x="834" y="24" font-size="14" fill="#dbdbdb" text-anchor="start">Replay</text>
<text x="1550" y="24" font-size="14" fill="#dbdbdb" text-anchor="start">schmidhip ina…</text>
<text x="1879.5" y="24" font-size="14" fill="#0f0f0f" text-anchor="middle">Publish</text></svg>
<svg width="53" height="1040" viewBox="0 40 53 1040" style="position:absolute;left:0px;top:40px" font-family='"Liberation Sans", sans-serif'><rect x="9" y="50" width="34" height="34" rx="7" fill="#3c3c3c"/>
<g fill="none" stroke="#e0e0e0" stroke-width="1.4" stroke-linecap="round" stroke-linejoin="round"><path d="M26.5 56v8M26.5 71v8M15 67.4h8M30 67.4h8"/></g>
<g fill="none" stroke="#dbdbdb" stroke-width="1.2" stroke-linecap="round" stroke-linejoin="round"><path d="M19.2 111.7L32.9 97.9"/><circle cx="17.6" cy="113.3" r="2.2"/><circle cx="34.5" cy="96.3" r="2.2"/></g>
<g fill="none" stroke="#dbdbdb" stroke-width="1.2" stroke-linecap="round" stroke-linejoin="round"><path d="M15 133.4h22M15 139.5h19.4M15 145.6h22M17.6 151.5h19.4"/><circle cx="36.6" cy="139.5" r="2.2"/><circle cx="15.4" cy="151.5" r="2.2"/></g>
<g fill="none" stroke="#dbdbdb" stroke-width="1.1" stroke-linecap="round" stroke-linejoin="round"><path d="M20.5 172.4L17.4 189.4L24.6 179.5L20.5 172.4M24.6 179.5L32.3 173.1L35.3 186.6L24.6 179.5"/></g>
<g fill="none" stroke="#dbdbdb" stroke-width="1.2" stroke-linecap="round" stroke-linejoin="round"><circle cx="20.5" cy="172.4" r="2.2" fill="#0f0f0f"/><circle cx="32.3" cy="173.1" r="2.2" fill="#0f0f0f"/><circle cx="24.6" cy="179.5" r="2.2" fill="#0f0f0f"/><circle cx="17.4" cy="189.4" r="2.2" fill="#0f0f0f"/><circle cx="35.3" cy="186.6" r="2.2" fill="#0f0f0f"/></g>
<g fill="none" stroke="#dbdbdb" stroke-width="1.2" stroke-linecap="round" stroke-linejoin="round"><path d="M18 211.4h18M18 221.2h14.3M18 227.3h18"/><path d="M21.3 219.2L33.5 213.6" stroke-dasharray="0.1,3.2" stroke-width="1.6"/><circle cx="16" cy="211.4" r="2.2"/><circle cx="16" cy="221.2" r="2.2"/><circle cx="16" cy="227.3" r="2.2"/><circle cx="34.5" cy="221.2" r="2.2"/></g>
<g fill="none" stroke="#dbdbdb" stroke-width="1.2" stroke-linecap="round" stroke-linejoin="round"><path d="M14.6 265.3C17 262 19 257 22 255.5C25 254 28.8 255.5 29 258.5C29.2 261.5 27.5 264.5 24.5 265.3Z"/><path d="M28.9 250.3C28.2 252.5 29.5 255.5 32.3 255.3L39.6 249"/></g>
<g fill="none" stroke="#dbdbdb" stroke-width="1.2" stroke-linecap="round" stroke-linejoin="round"><path d="M19.3 289.6v-3.1h14.6v3.1M26.4 286.5v17.3M23.8 303.8h5.4"/></g>
<g fill="none" stroke="#dbdbdb" stroke-width="1.2" stroke-linecap="round" stroke-linejoin="round"><circle cx="26.1" cy="332.9" r="10.6"/><path d="M22.6 335.3c2 3.2 5.2 3.2 6.9 0"/></g>
<circle cx="23.3" cy="331" r="0.9" fill="#dbdbdb"/><circle cx="28.7" cy="331" r="0.9" fill="#dbdbdb"/>
<rect x="8" y="357.5" width="36" height="1" fill="#3a3a3a"/>
<rect x="8" y="446.5" width="36" height="1" fill="#3a3a3a"/>
<rect x="8" y="650.0" width="36" height="1" fill="#3a3a3a"/>
<g fill="none" stroke="#dbdbdb" stroke-width="1.1" stroke-linecap="round" stroke-linejoin="round"><path d="M14.3 389.9L32.8 372.2L38 377.5L19.5 395.7Z"/><path d="M18.2 386.2l1.6 1.7M21.9 382.7l2 2.1M25.6 379.2l1.6 1.7M29.2 375.7l2 2.1M32.6 372.6l1.6 1.6"/></g>
<g fill="none" stroke="#dbdbdb" stroke-width="1.2" stroke-linecap="round" stroke-linejoin="round"><circle cx="24.4" cy="420.3" r="8.2"/><path d="M30.4 426.3L33.7 429.7M24.4 416.3v8M20.4 420.3h8"/></g>
<g fill="none" stroke="#dbdbdb" stroke-width="1.2" stroke-linecap="round" stroke-linejoin="round"><path d="M18 481.7V470.5a7.95 7.95 0 0 1 15.9 0V481.7h-5.2V471a2.6 2.6 0 0 0-5.2 0V481.7z"/><path d="M18 477h5.5M28.7 477h5.2"/></g>
<g fill="none" stroke="#dbdbdb" stroke-width="1.1" stroke-linecap="round" stroke-linejoin="round"><path d="M15.2 516.7L15.9 512.5L27.8 500.6a2.2 2.2 0 0 1 3.1 0l0.3 0.3a2.2 2.2 0 0 1 0 3.1L19.3 515.9Z"/><path d="M15.9 512.5l3.4 3.4"/><rect x="27.2" y="515" width="8.5" height="6.8" rx="1"/><path d="M28.3 515v-2.3a2.6 2.6 0 0 1 5.2 0"/><path d="M31.4 517.6v1.6"/></g>
<g fill="none" stroke="#dbdbdb" stroke-width="1.2" stroke-linecap="round" stroke-linejoin="round"><rect x="18" y="548" width="16" height="10.7" rx="1.5"/><path d="M22.1 548v-3.9a3.8 3.8 0 0 1 7.6 -0.6"/><path d="M25.9 551.5v2.8" stroke-width="1.8"/></g>
<g fill="none" stroke="#dbdbdb" stroke-width="1.1" stroke-linecap="round" stroke-linejoin="round"><path d="M15.7 583c2.8-4.4 6-6.6 9.4-6.6s6.6 2.2 9.4 6.6c-2.8 4.4-6 6.6-9.4 6.6s-6.6-2.2-9.4-6.6z"/><circle cx="25.1" cy="582.9" r="3.5"/><path d="M26.4 598c1.2-2.2 2.8-4 5-4.3c1-.1 1.4 1 .6 1.8c-1.2 1.3-3.5 2.3-5.6 2.5zM32.4 595.5l2-.2l2.5-2.6"/></g>
<rect x="9" y="608" width="34" height="34" rx="7" fill="#f2f2f2"/>
<g fill="none" stroke="#2a2a2a" stroke-width="1.3" stroke-linecap="round" stroke-linejoin="round"><path d="M24.3 620.3l3.6-3.6a3.6 3.6 0 0 1 5.1 5.1l-3.6 3.6M28.4 629.7l-3.6 3.6a3.6 3.6 0 0 1-5.1-5.1l3.6-3.6M23.6 628.6l5.8-5.8"/></g>
<g fill="none" stroke="#dbdbdb" stroke-width="1.2" stroke-linecap="round" stroke-linejoin="round"><path d="M17 669.3h17.8M22.2 669.3v-2a1 1 0 0 1 1-1h5.6a1 1 0 0 1 1 1v2M18.7 669.3l1.9 16.3h10.5l1.7-16.3"/></g></svg>
<svg width="47" height="1040" viewBox="1873 40 47 1040" style="position:absolute;left:1873px;top:40px" font-family='"Liberation Sans", sans-serif'><g fill="none" stroke="#dbdbdb" stroke-width="1.0" stroke-linecap="round" stroke-linejoin="round"><path d="M1888.5 55.5h19v22.5l-9.5-4l-9.5 4z"/><path d="M1892 60.5h12.5M1892 64.5h12.5M1892 68.5h12.5"/></g>
<g fill="none" stroke="#dbdbdb" stroke-width="1.0" stroke-linecap="round" stroke-linejoin="round"><circle cx="1897.5" cy="112" r="10.5"/><path d="M1897.5 105.5v7h-5M1886 104l3-3M1909 104l-3-3"/></g>
<g fill="none" stroke="#dbdbdb" stroke-width="1.0" stroke-linecap="round" stroke-linejoin="round"><path d="M1886 155.5l11.5-7l11.5 7l-11.5 7z"/><path d="M1886 160.5l11.5 7l11.5-7"/></g>
<g fill="none" stroke="#dbdbdb" stroke-width="1.0" stroke-linecap="round" stroke-linejoin="round"><path d="M1886.5 196a2 2 0 0 1 2-2h14.5a2 2 0 0 1 2 2v10a2 2 0 0 1-2 2h-11.5l-5 5z"/><path d="M1905.5 201.5h2.5a2 2 0 0 1 2 2v13.3l-4-4h-8.5a2 2 0 0 1-2-2v-2.5"/></g>
<g fill="none" stroke="#dbdbdb" stroke-width="1.0" stroke-linecap="round" stroke-linejoin="round"><circle cx="1897.5" cy="773" r="14"/><circle cx="1897.5" cy="773" r="8"/><path d="M1897.5 773l9-9"/><circle cx="1897.5" cy="773" r="1.5" fill="#dbdbdb"/></g>
<g fill="none" stroke="#dbdbdb" stroke-width="1.0" stroke-linecap="round" stroke-linejoin="round"><path d="M1885.5 827.5l8-11.5h8l8 11.5z"/><path d="M1890 818l7.5-11l7 9.5l-7 5.5z"/></g>
<g fill="none" stroke="#dbdbdb" stroke-width="1.0" stroke-linecap="round" stroke-linejoin="round"><rect x="1886" y="852" width="23" height="21" rx="3"/><path d="M1886 858h23M1891 849.5v4M1904 849.5v4"/></g>
<g fill="none" stroke="#dbdbdb" stroke-width="1.0" stroke-linecap="round" stroke-linejoin="round"><path d="M1887 895.5a16 16 0 0 1 20 18M1887 900.5a11 11 0 0 1 14 12.5M1887 905.5a6 6 0 0 1 8 7"/><circle cx="1888.5" cy="913" r="1.7"/></g>
<g fill="none" stroke="#dbdbdb" stroke-width="1.0" stroke-linecap="round" stroke-linejoin="round"><path d="M1889.5 961v-10a8 8 0 0 1 16 0v10M1886 961.5h23v3h-23zM1894.5 965c0 3 6 3 6 0"/></g>
<rect x="1894" y="933" width="21.5" height="17" rx="8.5" fill="#f23645"/>
<text x="1904.7" y="946" font-size="12" fill="#fff" text-anchor="middle">44</text>
<circle cx="1897.5" cy="998.5" r="16.5" fill="#f2f2f2"/>
<rect x="1889.4" y="990.4" width="3.8" height="3.8" rx="0.8" fill="#131313"/><rect x="1889.4" y="996.6" width="3.8" height="3.8" rx="0.8" fill="#131313"/><rect x="1889.4" y="1002.8" width="3.8" height="3.8" rx="0.8" fill="#131313"/><rect x="1895.6" y="990.4" width="3.8" height="3.8" rx="0.8" fill="#131313"/><rect x="1895.6" y="996.6" width="3.8" height="3.8" rx="0.8" fill="#131313"/><rect x="1895.6" y="1002.8" width="3.8" height="3.8" rx="0.8" fill="#131313"/><rect x="1901.8" y="990.4" width="3.8" height="3.8" rx="0.8" fill="#131313"/><rect x="1901.8" y="996.6" width="3.8" height="3.8" rx="0.8" fill="#131313"/><rect x="1901.8" y="1002.8" width="3.8" height="3.8" rx="0.8" fill="#131313"/>
<rect x="1882" y="1027" width="32" height="1" fill="#333"/>
<g fill="none" stroke="#dbdbdb" stroke-width="1.0" stroke-linecap="round" stroke-linejoin="round"><circle cx="1897.5" cy="1056.3" r="13.7"/><path d="M1893 1051.8a4.5 4.5 0 1 1 6 4.3c-1.2 .5-1.5 1.2-1.5 2.5v1"/><circle cx="1897.5" cy="1063.5" r="1" fill="#dbdbdb"/></g></svg>
<svg width="1815" height="492" viewBox="56 588 1815 492" style="position:absolute;left:56px;top:588px" font-family='"Liberation Sans", sans-serif'><text x="70" y="613" font-size="14" fill="#dbdbdb" text-anchor="start">1D</text>
<text x="100" y="613" font-size="14" fill="#dbdbdb" text-anchor="start">5D</text>
<text x="130" y="613" font-size="14" fill="#dbdbdb" text-anchor="start">1M</text>
<text x="161" y="613" font-size="14" fill="#dbdbdb" text-anchor="start">3M</text>
<text x="192.5" y="613" font-size="14" fill="#dbdbdb" text-anchor="start">6M</text>
<text x="224.5" y="613" font-size="14" fill="#dbdbdb" text-anchor="start">YTD</text>
<text x="264" y="613" font-size="14" fill="#dbdbdb" text-anchor="start">1Y</text>
<text x="293" y="613" font-size="14" fill="#dbdbdb" text-anchor="start">5Y</text>
<text x="322.5" y="613" font-size="14" fill="#dbdbdb" text-anchor="start">All</text>
<rect x="348.5" y="598" width="1" height="20" fill="#333"/>
<g fill="none" stroke="#dbdbdb" stroke-width="1.1" stroke-linecap="round" stroke-linejoin="round"><path d="M364 602v-2.5M378 602v-2.5M363 601.5h16.5a1.5 1.5 0 0 1 1.5 1.5v11a1.5 1.5 0 0 1-1.5 1.5h-3.5M363 601.5v5.5M363 606.5h18M362 613h8M367.5 610.5l2.5 2.5l-2.5 2.5"/></g>
<text x="1861" y="613" font-size="14" fill="#dbdbdb" text-anchor="end">07:22:18 UTC+8</text><rect x="162" y="633" width="114" height="34" rx="6" fill="#383838"/>
<text x="72" y="655" font-size="14" fill="#dbdbdb" text-anchor="start">Pine Editor</text>
<text x="172.5" y="655" font-size="14" fill="#dbdbdb" text-anchor="start">Strategy Tester</text>
<text x="298.75" y="655" font-size="14" fill="#dbdbdb" text-anchor="start">Trading Panel</text>
<rect x="56" y="669" width="1815" height="1" fill="#2a2a2a"/>
<g fill="none" stroke="#dbdbdb" stroke-width="1.3" stroke-linecap="round" stroke-linejoin="round"><path d="M1809 656.5h14"/></g>
<g fill="none" stroke="#dbdbdb" stroke-width="1.2" stroke-linecap="round" stroke-linejoin="round"><path d="M1844 646v-2.5a1.5 1.5 0 0 1 1.5-1.5h13a1.5 1.5 0 0 1 1.5 1.5v2.5M1844 654v2.5a1.5 1.5 0 0 0 1.5 1.5h13a1.5 1.5 0 0 0 1.5-1.5v-2.5"/></g>
<rect x="76.5" y="689.5" width="7" height="9" fill="none" stroke="#a8a8a8" stroke-width="0.9"/>
<text x="89.7" y="699" font-size="14" fill="#e8e8e8" text-anchor="start" font-weight="bold">SuperF Dead [v5] by @DaviddTech</text>
<rect x="326" y="689.5" width="7" height="9" fill="none" stroke="#a8a8a8" stroke-width="0.9"/>
<text x="339.3" y="699" font-size="14" fill="#e8e8e8" text-anchor="start" font-weight="bold">report</text>
<circle cx="392" cy="693.8" r="8.5" fill="#3b1f45"/>
<rect x="387" y="689.5" width="10" height="9" rx="1.5" fill="none" stroke="#e040fb" stroke-width="1.6"/><path d="M387 692.5h10M389.5 688v2.5M394.5 688v2.5" stroke="#e040fb" stroke-width="1.6"/>
<g fill="none" stroke="#dbdbdb" stroke-width="1.1" stroke-linecap="round" stroke-linejoin="round"><path d="M406.5 692.5l3.5 3l3.5-3"/></g>
<g fill="none" stroke="#dbdbdb" stroke-width="1.1" stroke-linecap="round" stroke-linejoin="round"><rect x="1642" y="685.5" width="17.5" height="16" rx="2"/><path d="M1642 690.5h17.5M1646 683.5v3M1655.5 683.5v3"/></g>
<text x="1669.5" y="699" font-size="14" fill="#e0e0e0" text-anchor="start">Sep 7, 2025 — Dec 6, 2025</text>
<g fill="none" stroke="#dbdbdb" stroke-width="1.1" stroke-linecap="round" stroke-linejoin="round"><path d="M1847 692.5l3.5 3l3.5-3"/></g>
<rect x="72" y="722" width="82" height="28" rx="14" fill="#f2f2f2"/>
<text x="113.0" y="741" font-size="14" fill="#131313" text-anchor="middle">Overview</text>
<rect x="158.3" y="722" width="104.19999999999999" height="28" rx="14" fill="#2e2e2e"/>
<text x="210.4" y="741" font-size="14" fill="#dbdbdb" text-anchor="middle">Performance</text>
<rect x="267" y="722" width="120.5" height="28" rx="14" fill="#2e2e2e"/>
<text x="327.25" y="741" font-size="14" fill="#dbdbdb" text-anchor="middle">Trades analysis</text>
<rect x="392" y="722" width="172" height="28" rx="14" fill="#2e2e2e"/>
<text x="478.0" y="741" font-size="14" fill="#dbdbdb" text-anchor="middle">Risk/performance ratios</text>
<rect x="568" y="722" width="105" height="28" rx="14" fill="#2e2e2e"/>
<text x="620.5" y="741" font-size="14" fill="#dbdbdb" text-anchor="middle">List of trades</text>
<text x="72" y="783" font-size="14" fill="#e0e0e0" text-anchor="start" font-weight="bold">Total P&amp;L</text>
<circle cx="150" cy="778" r="7.5" fill="#4a4a4a"/><rect x="149.1" y="776.5" width="1.8" height="5" fill="#0f0f0f"/><circle cx="150" cy="774.3" r="1.1" fill="#0f0f0f"/>
<text x="72" y="805.5" font-size="16" fill="#f23645" text-anchor="start">−106.14</text>
<text x="133.5" y="805.5" font-size="11" fill="#f23645" text-anchor="start">USD</text>
<text x="164.4" y="805.5" font-size="14" fill="#f23645" text-anchor="start">−1.06%</text>
<text x="496" y="783" font-size="14" fill="#e0e0e0" text-anchor="start" font-weight="bold">Max equity drawdown</text>
<circle cx="656" cy="778" r="7.5" fill="#4a4a4a"/><rect x="655.1" y="776.5" width="1.8" height="5" fill="#0f0f0f"/><circle cx="656" cy="774.3" r="1.1" fill="#0f0f0f"/>
<text x="496" y="805.5" font-size="16" fill="#e0e0e0" text-anchor="start">1,939.47</text>
<text x="561.5" y="805.5" font-size="11" fill="#e0e0e0" text-anchor="start">USD</text>
<text x="592.4" y="805.5" font-size="14" fill="#e0e0e0" text-anchor="start">19.15%</text>
<text x="949" y="783" font-size="14" fill="#e0e0e0" text-anchor="start" font-weight="bold">Total trades</text>
<circle cx="1041" cy="778" r="7.5" fill="#4a4a4a"/><rect x="1040.1" y="776.5" width="1.8" height="5" fill="#0f0f0f"/><circle cx="1041" cy="774.3" r="1.1" fill="#0f0f0f"/>
<text x="949" y="805.5" font-size="16" fill="#e0e0e0" text-anchor="start">13</text>
<text x="1335" y="783" font-size="14" fill="#e0e0e0" text-anchor="start" font-weight="bold">Profitable trades</text>
<circle cx="1459" cy="778" r="7.5" fill="#4a4a4a"/><rect x="1458.1" y="776.5" width="1.8" height="5" fill="#0f0f0f"/><circle cx="1459" cy="774.3" r="1.1" fill="#0f0f0f"/>
<text x="1335" y="805.5" font-size="16" fill="#e0e0e0" text-anchor="start">38.46%</text>
<text x="1392" y="805.5" font-size="11" fill="#e0e0e0" text-anchor="start">5/13</text>
<text x="1752.5" y="783" font-size="14" fill="#e0e0e0" text-anchor="start" font-weight="bold">Profit factor</text>
<circle cx="1846" cy="778" r="7.5" fill="#4a4a4a"/><rect x="1845.1" y="776.5" width="1.8" height="5" fill="#0f0f0f"/><circle cx="1846" cy="774.3" r="1.1" fill="#0f0f0f"/>
<text x="1752.5" y="805.5" font-size="16" fill="#e0e0e0" text-anchor="start">0.967</text>
<path d="M136.4 877 L136.4 890.5 L267.6 915.2 L398.5 872 L529.3 910.4 L660.2 866.9 L791 898 L922 931 L1053 961 L1184 990 L1315.7 956.7 L1446.7 892.3 L1530 863.3 L1530 877Z" fill="#1f1718"/>
<clipPath id="abv"><rect x="56" y="820" width="1700" height="57"/></clipPath>
<path d="M136.4 877 L136.4 890.5 L267.6 915.2 L398.5 872 L529.3 910.4 L660.2 866.9 L791 898 L922 931 L1053 961 L1184 990 L1315.7 956.7 L1446.7 892.3 L1530 863.3 L1530 877Z" fill="#0f0f0f" clip-path="url(#abv)"/>
<path d="M136.4 877 L136.4 890.5 L267.6 915.2 L398.5 872 L529.3 910.4 L660.2 866.9 L791 898 L922 931 L1053 961 L1184 990 L1315.7 956.7 L1446.7 892.3 L1530 863.3 L1530 877Z" fill="#0d1a17" clip-path="url(#abv)"/>
<clipPath id="blw"><rect x="56" y="877" width="1700" height="200"/></clipPath>
<path d="M136.4 890.5 L267.6 915.2 L398.5 872 L529.3 910.4 L660.2 866.9 L791 898 L922 931 L1053 961 L1184 990 L1315.7 956.7 L1446.7 892.3 L1530 863.3" stroke="#f23645" stroke-width="2" fill="none" clip-path="url(#blw)"/>
<path d="M136.4 890.5 L267.6 915.2 L398.5 872 L529.3 910.4 L660.2 866.9 L791 898 L922 931 L1053 961 L1184 990 L1315.7 956.7 L1446.7 892.3 L1530 863.3" stroke="#089981" stroke-width="2" fill="none" clip-path="url(#abv)"/>
<circle cx="136.4" cy="890.5" r="4" fill="#f23645"/>
<circle cx="267.6" cy="915.2" r="4" fill="#f23645"/>
<circle cx="398.5" cy="872" r="4" fill="#089981"/>
<circle cx="529.3" cy="910.4" r="4" fill="#f23645"/>
<circle cx="660.2" cy="866.9" r="4" fill="#089981"/>
<circle cx="791" cy="898" r="4" fill="#f23645"/>
<circle cx="922" cy="931" r="4" fill="#f23645"/>
<circle cx="1053" cy="961" r="4" fill="#f23645"/>
<circle cx="1184" cy="990" r="4" fill="#f23645"/>
<circle cx="1315.7" cy="956.7" r="4" fill="#f23645"/>
<circle cx="1446.7" cy="892.3" r="4" fill="#f23645"/>
<rect x="660" y="995" width="524" height="3" fill="#8c2531"/>
<rect x="1184" y="995" width="393" height="3" fill="#0b5a4c"/>
<rect x="1707.8" y="900" width="1" height="100" fill="#4a4a4a"/>
<rect x="1530" y="828.3" width="200" height="75" rx="4" fill="#383838"/>
<text x="1630" y="846" font-size="12" fill="#b8b8b8" text-anchor="middle">Trade #95 Short</text>
<circle cx="1547.7" cy="865.7" r="3.8" fill="#089981"/>
<text x="1556" y="870.3" font-size="12" fill="#f2f2f2" text-anchor="start" font-weight="bold">Cumulative P&amp;L</text>
<text x="1715.7" y="870.3" font-size="12" fill="#f2f2f2" text-anchor="end" font-weight="bold">15.88%</text>
<text x="1630" y="894" font-size="12" fill="#b8b8b8" text-anchor="middle">Mon, Dec 01, 2025, 20:30</text>
<text x="1784" y="881" font-size="12" fill="#b8b8b8" text-anchor="start">0.00%</text>
<rect x="1781.7" y="876" width="53.5" height="16.3" rx="2" fill="#089981"/>
<text x="1788" y="888.5" font-size="12" fill="#0f0f0f" text-anchor="start">−1.06%</text>
<text x="1784" y="917" font-size="12" fill="#b8b8b8" text-anchor="start">−5.00%</text>
<text x="1784" y="954" font-size="12" fill="#b8b8b8" text-anchor="start">−10.00%</text>
<text x="1784" y="990" font-size="12" fill="#b8b8b8" text-anchor="start">−15.00%</text>
<text x="136.4" y="1019" font-size="12" fill="#b8b8b8" text-anchor="middle">29</text>
<text x="267.6" y="1019" font-size="12" fill="#b8b8b8" text-anchor="middle">30</text>
<text x="398.5" y="1019" font-size="12" fill="#b8b8b8" text-anchor="middle" font-weight="bold">Oct</text>
<text x="529.3" y="1019" font-size="12" fill="#b8b8b8" text-anchor="middle">8</text>
<text x="660.2" y="1019" font-size="12" fill="#b8b8b8" text-anchor="middle">11</text>
<text x="791" y="1019" font-size="12" fill="#b8b8b8" text-anchor="middle">17</text>
<text x="922" y="1019" font-size="12" fill="#b8b8b8" text-anchor="middle">22</text>
<text x="1053" y="1019" font-size="12" fill="#b8b8b8" text-anchor="middle" font-weight="bold">Nov</text>
<text x="1184" y="1019" font-size="12" fill="#b8b8b8" text-anchor="middle">14</text>
<text x="1314" y="1019" font-size="12" fill="#b8b8b8" text-anchor="middle">21</text>
<text x="1445.7" y="1019" font-size="12" fill="#b8b8b8" text-anchor="middle">28</text>
<text x="1576" y="1019" font-size="12" fill="#b8b8b8" text-anchor="middle" font-weight="bold">Dec</text>
<text x="1707.3" y="1019" font-size="12" fill="#b8b8b8" text-anchor="middle">5</text>
<rect x="72.4" y="1048.5" width="17" height="17" rx="3" fill="none" stroke="#c8c8c8" stroke-width="1"/>
<text x="98" y="1062" font-size="14" fill="#dbdbdb" text-anchor="start">Buy &amp; hold</text>
<g fill="none" stroke="#dbdbdb" stroke-width="1.2" stroke-linecap="round" stroke-linejoin="round"><path d="M175 1063l5-5l4 3l5-5l4 3"/></g>
<rect x="230.4" y="1048.5" width="17" height="17" rx="3" fill="none" stroke="#c8c8c8" stroke-width="1"/>
<text x="256.3" y="1062" font-size="14" fill="#dbdbdb" text-anchor="start">Trades run-up &amp; drawdown</text>
<g fill="none" stroke="#dbdbdb" stroke-width="1.1" stroke-linecap="round" stroke-linejoin="round"><path d="M433 1064.5h17M434 1064v-6h3.5v6M438 1064v-10h4v10M442 1064v-13h4v13"/></g>
<text x="1690" y="1062" font-size="14" fill="#dbdbdb" text-anchor="start">Absolute</text>
<rect x="1760" y="1043.3" width="90.7" height="27.4" rx="5" fill="#2e2e2e"/>
<text x="1805.3" y="1062" font-size="14" fill="#f2f2f2" text-anchor="middle" font-weight="bold">Percentage</text></svg>
<svg width="74" height="32" viewBox="1797 44 74 32" style="position:absolute;left:1797px;top:44px" font-family='"Liberation Sans", sans-serif'><rect x="1797" y="70" width="73" height="5.5" fill="#5d606b"/>
<rect x="1803.5" y="47" width="62.5" height="24" rx="4" fill="#0f0f0f"/>
<text x="1807" y="63" font-size="12" fill="#e6e6e6" text-anchor="start">USDT</text>
<g fill="none" stroke="#dbdbdb" stroke-width="1.1" stroke-linecap="round" stroke-linejoin="round"><path d="M1857 58.2l2.4 2.4l2.4-2.4"/></g></svg>
</body></html>
